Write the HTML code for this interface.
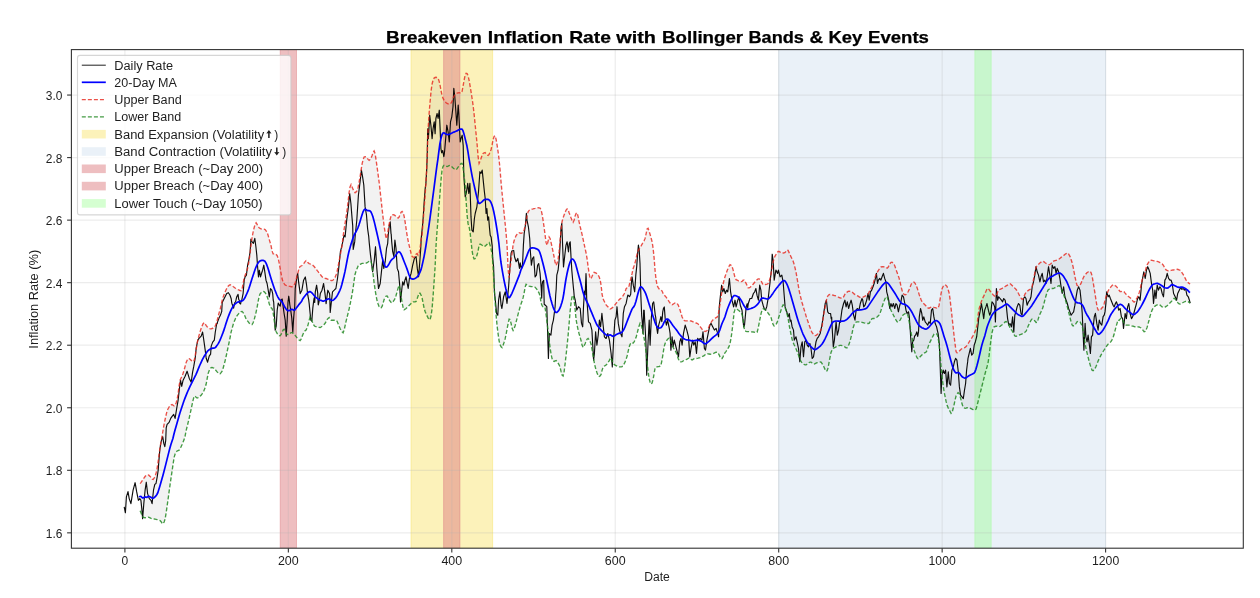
<!DOCTYPE html><html><head><meta charset="utf-8"><style>html,body{margin:0;padding:0;background:#fff;}svg{display:block;filter:blur(0.3px);}text{font-family:"Liberation Sans",sans-serif;}</style></head><body>
<svg width="1260" height="598" viewBox="0 0 1260 598">
<rect width="1260" height="598" fill="#fff"/>
<defs><clipPath id="ax"><rect x="71.4" y="49.6" width="1171.8999999999999" height="498.6"/></clipPath></defs>
<g clip-path="url(#ax)">
<rect x="410.94" y="49.6" width="81.73" height="498.6" fill="#f5d419" fill-opacity="0.3" stroke="#f5d419" stroke-opacity="0.3" stroke-width="0.9"/>
<rect x="778.70" y="49.6" width="326.90" height="498.6" fill="#b2cde4" fill-opacity="0.27" stroke="#b2cde4" stroke-opacity="0.27" stroke-width="0.9"/>
<rect x="280.18" y="49.6" width="16.34" height="498.6" fill="#dd7d81" fill-opacity="0.5" stroke="#dd7d81" stroke-opacity="0.5" stroke-width="0.9"/>
<rect x="443.63" y="49.6" width="16.35" height="498.6" fill="#dd7d81" fill-opacity="0.5" stroke="#dd7d81" stroke-opacity="0.5" stroke-width="0.9"/>
<rect x="974.84" y="49.6" width="16.35" height="498.6" fill="#96ff8c" fill-opacity="0.4" stroke="#96ff8c" stroke-opacity="0.4" stroke-width="0.9"/>
<line x1="71.4" x2="1243.3" y1="532.84" y2="532.84" stroke="#b0b0b0" stroke-opacity="0.24" stroke-width="1.2"/>
<line x1="71.4" x2="1243.3" y1="470.30" y2="470.30" stroke="#b0b0b0" stroke-opacity="0.24" stroke-width="1.2"/>
<line x1="71.4" x2="1243.3" y1="407.76" y2="407.76" stroke="#b0b0b0" stroke-opacity="0.24" stroke-width="1.2"/>
<line x1="71.4" x2="1243.3" y1="345.22" y2="345.22" stroke="#b0b0b0" stroke-opacity="0.24" stroke-width="1.2"/>
<line x1="71.4" x2="1243.3" y1="282.67" y2="282.67" stroke="#b0b0b0" stroke-opacity="0.24" stroke-width="1.2"/>
<line x1="71.4" x2="1243.3" y1="220.13" y2="220.13" stroke="#b0b0b0" stroke-opacity="0.24" stroke-width="1.2"/>
<line x1="71.4" x2="1243.3" y1="157.59" y2="157.59" stroke="#b0b0b0" stroke-opacity="0.24" stroke-width="1.2"/>
<line x1="71.4" x2="1243.3" y1="95.05" y2="95.05" stroke="#b0b0b0" stroke-opacity="0.24" stroke-width="1.2"/>
<line y1="49.6" y2="548.2" x1="124.90" x2="124.90" stroke="#b0b0b0" stroke-opacity="0.24" stroke-width="1.2"/>
<line y1="49.6" y2="548.2" x1="288.35" x2="288.35" stroke="#b0b0b0" stroke-opacity="0.24" stroke-width="1.2"/>
<line y1="49.6" y2="548.2" x1="451.80" x2="451.80" stroke="#b0b0b0" stroke-opacity="0.24" stroke-width="1.2"/>
<line y1="49.6" y2="548.2" x1="615.25" x2="615.25" stroke="#b0b0b0" stroke-opacity="0.24" stroke-width="1.2"/>
<line y1="49.6" y2="548.2" x1="778.70" x2="778.70" stroke="#b0b0b0" stroke-opacity="0.24" stroke-width="1.2"/>
<line y1="49.6" y2="548.2" x1="942.15" x2="942.15" stroke="#b0b0b0" stroke-opacity="0.24" stroke-width="1.2"/>
<line y1="49.6" y2="548.2" x1="1105.60" x2="1105.60" stroke="#b0b0b0" stroke-opacity="0.24" stroke-width="1.2"/>
<path d="M140.1 483.6 L141.1 482.4 L142.1 480.9 L143.1 479.4 L144.1 477.9 L145.1 476.5 L146.1 475.3 L147.1 475.0 L148.1 474.9 L149.1 475.4 L150.1 476.4 L151.1 477.6 L152.1 479.2 L153.1 479.5 L154.1 478.2 L155.1 476.5 L156.1 473.0 L157.1 468.3 L158.1 461.9 L159.1 454.0 L160.1 447.2 L161.1 441.4 L162.1 435.9 L163.1 429.8 L164.1 424.4 L165.1 419.5 L166.1 414.9 L167.1 410.8 L168.1 408.7 L169.1 407.0 L170.1 405.5 L171.1 404.8 L172.1 404.5 L173.1 405.2 L174.1 405.9 L175.1 405.1 L176.1 403.0 L177.1 399.4 L178.1 393.8 L179.1 385.8 L180.1 380.0 L181.1 378.0 L182.1 376.1 L183.1 373.3 L184.1 370.2 L185.1 366.4 L186.1 362.7 L187.1 360.3 L188.1 358.6 L189.1 358.6 L190.1 359.2 L191.1 360.2 L192.1 361.4 L193.1 361.7 L194.1 360.6 L195.1 356.5 L196.1 349.6 L197.1 343.6 L198.1 338.8 L199.1 335.1 L200.1 331.7 L201.1 328.5 L202.1 326.0 L203.1 323.7 L204.1 322.7 L205.1 323.9 L206.1 325.4 L207.1 326.7 L208.1 327.6 L209.1 328.3 L210.1 328.8 L211.1 328.8 L212.1 328.5 L213.1 328.2 L214.1 327.5 L215.1 326.0 L216.1 324.1 L217.1 320.7 L218.1 316.8 L219.1 312.9 L220.1 309.5 L221.1 305.5 L222.1 300.6 L223.1 297.1 L224.1 294.4 L225.1 291.9 L226.1 289.8 L227.1 287.8 L228.1 286.3 L229.1 285.3 L230.1 284.7 L231.1 285.1 L232.1 285.7 L233.1 286.5 L234.1 287.2 L235.1 288.0 L236.1 288.6 L237.1 289.2 L238.1 289.7 L239.1 290.1 L240.1 290.5 L241.1 290.8 L242.1 288.7 L243.1 283.5 L244.1 278.2 L245.1 275.2 L246.1 273.1 L247.1 270.4 L248.1 266.3 L249.1 260.5 L250.1 253.2 L251.1 244.6 L252.1 237.2 L253.1 232.2 L254.1 227.8 L255.1 224.3 L256.1 222.7 L257.1 224.4 L258.1 226.6 L259.1 227.8 L260.1 228.4 L261.1 228.9 L262.1 229.2 L263.1 229.2 L264.1 229.2 L265.1 229.5 L266.1 230.8 L267.1 232.5 L268.1 235.3 L269.1 239.1 L270.1 242.4 L271.1 246.0 L272.1 251.1 L273.1 253.9 L274.1 253.8 L275.1 253.7 L276.1 254.4 L277.1 255.4 L278.1 258.0 L279.1 262.5 L280.1 268.0 L281.1 273.7 L282.1 278.8 L283.1 282.2 L284.1 283.7 L285.1 284.9 L286.1 285.4 L287.1 285.7 L288.1 285.9 L289.1 286.2 L290.1 286.4 L291.1 286.7 L292.1 286.7 L293.1 286.1 L294.1 285.2 L295.1 282.8 L296.1 279.5 L297.1 276.0 L298.1 272.1 L299.1 268.3 L300.1 266.5 L301.1 266.0 L302.1 265.5 L303.1 264.6 L304.1 263.1 L305.1 261.6 L306.1 260.6 L307.1 261.5 L308.1 262.8 L309.1 263.6 L310.1 263.9 L311.1 264.1 L312.1 264.6 L313.1 265.5 L314.1 266.5 L315.1 267.7 L316.1 269.0 L317.1 270.4 L318.1 271.7 L319.1 273.0 L320.1 274.3 L321.1 275.5 L322.1 276.8 L323.1 277.7 L324.1 278.0 L325.1 278.3 L326.1 278.5 L327.1 278.9 L328.1 279.3 L329.1 279.7 L330.1 279.9 L331.1 280.5 L332.1 280.6 L333.1 280.0 L334.1 279.1 L335.1 277.2 L336.1 274.8 L337.1 271.4 L338.1 266.5 L339.1 261.2 L340.1 255.9 L341.1 250.7 L342.1 245.4 L343.1 236.6 L344.1 229.4 L345.1 223.2 L346.1 216.7 L347.1 209.9 L348.1 201.5 L349.1 192.3 L350.1 186.6 L351.1 184.5 L352.1 186.9 L353.1 189.4 L354.1 191.3 L355.1 192.7 L356.1 191.9 L357.1 190.7 L358.1 187.4 L359.1 182.1 L360.1 176.6 L361.1 169.9 L362.1 163.9 L363.1 159.6 L364.1 157.0 L365.1 156.7 L366.1 157.0 L367.1 158.1 L368.1 159.4 L369.1 160.3 L370.1 159.5 L371.1 157.9 L372.1 155.5 L373.1 152.3 L374.1 151.0 L375.1 153.8 L376.1 160.0 L377.1 167.1 L378.1 174.4 L379.1 182.0 L380.1 190.7 L381.1 200.0 L382.1 209.1 L383.1 217.8 L384.1 226.1 L385.1 232.2 L386.1 238.7 L387.1 236.9 L388.1 230.3 L389.1 224.3 L390.1 219.6 L391.1 215.8 L392.1 214.9 L393.1 214.6 L394.1 214.8 L395.1 215.6 L396.1 216.3 L397.1 217.1 L398.1 218.0 L399.1 217.0 L400.1 214.4 L401.1 212.2 L402.1 211.4 L403.1 212.6 L404.1 216.1 L405.1 221.8 L406.1 228.8 L407.1 235.3 L408.1 240.6 L409.1 245.2 L410.1 249.4 L411.1 253.4 L412.1 256.4 L413.1 257.1 L414.1 257.3 L415.1 256.2 L416.1 254.2 L417.1 253.5 L418.1 255.3 L419.1 253.6 L420.1 247.8 L421.1 240.1 L422.1 234.7 L423.1 221.9 L424.1 208.4 L425.1 196.0 L426.1 180.3 L427.1 159.6 L428.1 129.2 L429.1 113.6 L430.1 101.7 L431.1 90.8 L432.1 84.0 L433.1 80.0 L434.1 78.1 L435.1 77.5 L436.1 77.3 L437.1 77.7 L438.1 78.4 L439.1 81.1 L440.1 85.4 L441.1 91.0 L442.1 95.7 L443.1 98.4 L444.1 100.4 L445.1 101.6 L446.1 102.7 L447.1 103.5 L448.1 103.9 L449.1 104.1 L450.1 103.8 L451.1 103.1 L452.1 101.4 L453.1 98.2 L454.1 96.0 L455.1 94.6 L456.1 93.6 L457.1 93.2 L458.1 92.9 L459.1 92.7 L460.1 92.9 L461.1 93.1 L462.1 91.3 L463.1 85.9 L464.1 80.2 L465.1 75.3 L466.1 73.3 L467.1 73.5 L468.1 75.8 L469.1 80.3 L470.1 86.2 L471.1 92.2 L472.1 98.5 L473.1 105.5 L474.1 114.2 L475.1 124.1 L476.1 134.1 L477.1 144.2 L478.1 156.7 L479.1 163.3 L480.1 161.1 L481.1 158.3 L482.1 155.3 L483.1 153.4 L484.1 152.9 L485.1 152.6 L486.1 153.7 L487.1 155.0 L488.1 155.4 L489.1 154.4 L490.1 151.9 L491.1 149.5 L492.1 144.9 L493.1 139.6 L494.1 136.4 L495.1 135.8 L496.1 139.3 L497.1 145.2 L498.1 151.9 L499.1 159.7 L500.1 170.3 L501.1 182.8 L502.1 193.3 L503.1 203.3 L504.1 213.3 L505.1 223.3 L506.1 233.3 L507.1 246.0 L508.1 269.4 L509.1 277.7 L510.1 268.1 L511.1 260.3 L512.1 253.1 L513.1 244.8 L514.1 240.8 L515.1 238.1 L516.1 235.6 L517.1 234.3 L518.1 233.3 L519.1 232.7 L520.1 233.1 L521.1 233.2 L522.1 232.9 L523.1 232.4 L524.1 229.9 L525.1 226.2 L526.1 221.7 L527.1 215.6 L528.1 211.8 L529.1 210.4 L530.1 209.8 L531.1 209.4 L532.1 209.1 L533.1 208.9 L534.1 208.6 L535.1 208.4 L536.1 208.1 L537.1 207.9 L538.1 207.7 L539.1 207.8 L540.1 208.1 L541.1 209.8 L542.1 214.3 L543.1 220.4 L544.1 227.4 L545.1 235.2 L546.1 242.7 L547.1 245.2 L548.1 241.0 L549.1 237.0 L550.1 238.5 L551.1 242.6 L552.1 247.2 L553.1 251.9 L554.1 257.0 L555.1 262.3 L556.1 265.4 L557.1 263.1 L558.1 259.3 L559.1 251.4 L560.1 240.5 L561.1 229.6 L562.1 221.5 L563.1 217.9 L564.1 215.1 L565.1 212.4 L566.1 210.1 L567.1 209.0 L568.1 209.8 L569.1 212.7 L570.1 215.4 L571.1 218.1 L572.1 220.5 L573.1 222.3 L574.1 220.3 L575.1 215.9 L576.1 213.5 L577.1 212.8 L578.1 216.7 L579.1 221.9 L580.1 226.4 L581.1 230.4 L582.1 234.6 L583.1 239.2 L584.1 243.9 L585.1 248.5 L586.1 253.2 L587.1 258.9 L588.1 266.5 L589.1 273.5 L590.1 278.5 L591.1 278.4 L592.1 276.3 L593.1 273.9 L594.1 272.3 L595.1 272.6 L596.1 273.1 L597.1 273.9 L598.1 275.1 L599.1 276.7 L600.1 279.7 L601.1 285.2 L602.1 294.3 L603.1 298.9 L604.1 301.0 L605.1 303.0 L606.1 304.9 L607.1 306.0 L608.1 307.0 L609.1 308.0 L610.1 308.9 L611.1 308.6 L612.1 307.9 L613.1 307.1 L614.1 306.1 L615.1 304.7 L616.1 303.4 L617.1 302.1 L618.1 300.8 L619.1 299.7 L620.1 298.9 L621.1 298.2 L622.1 297.2 L623.1 295.7 L624.1 294.0 L625.1 291.9 L626.1 288.6 L627.1 287.8 L628.1 287.7 L629.1 285.7 L630.1 281.5 L631.1 277.4 L632.1 273.4 L633.1 268.7 L634.1 265.9 L635.1 262.8 L636.1 258.4 L637.1 253.8 L638.1 250.8 L639.1 249.1 L640.1 247.4 L641.1 245.8 L642.1 244.1 L643.1 242.4 L644.1 240.8 L645.1 238.4 L646.1 233.8 L647.1 228.9 L648.1 228.2 L649.1 231.2 L650.1 234.4 L651.1 238.0 L652.1 241.8 L653.1 248.2 L654.1 257.9 L655.1 270.8 L656.1 279.9 L657.1 285.4 L658.1 287.4 L659.1 288.9 L660.1 289.6 L661.1 290.0 L662.1 291.1 L663.1 293.4 L664.1 295.0 L665.1 296.0 L666.1 297.1 L667.1 298.6 L668.1 300.1 L669.1 301.6 L670.1 303.0 L671.1 304.3 L672.1 304.8 L673.1 304.2 L674.1 303.5 L675.1 302.9 L676.1 303.0 L677.1 303.4 L678.1 304.8 L679.1 307.4 L680.1 310.2 L681.1 313.6 L682.1 317.0 L683.1 318.8 L684.1 320.4 L685.1 320.9 L686.1 320.9 L687.1 320.9 L688.1 320.9 L689.1 320.9 L690.1 320.9 L691.1 321.0 L692.1 321.4 L693.1 321.9 L694.1 322.4 L695.1 322.7 L696.1 323.0 L697.1 323.3 L698.1 324.0 L699.1 325.3 L700.1 326.6 L701.1 327.9 L702.1 329.3 L703.1 330.3 L704.1 331.0 L705.1 331.5 L706.1 331.2 L707.1 330.5 L708.1 329.0 L709.1 326.4 L710.1 323.9 L711.1 322.3 L712.1 320.9 L713.1 319.8 L714.1 319.0 L715.1 318.3 L716.1 317.6 L717.1 317.2 L718.1 315.4 L719.1 309.7 L720.1 303.8 L721.1 296.9 L722.1 289.9 L723.1 284.0 L724.1 279.9 L725.1 276.5 L726.1 273.5 L727.1 270.7 L728.1 268.4 L729.1 266.2 L730.1 264.7 L731.1 265.2 L732.1 266.7 L733.1 269.9 L734.1 273.9 L735.1 278.0 L736.1 279.7 L737.1 280.2 L738.1 280.7 L739.1 281.1 L740.1 281.3 L741.1 281.6 L742.1 281.4 L743.1 280.2 L744.1 280.1 L745.1 281.7 L746.1 283.4 L747.1 285.6 L748.1 287.8 L749.1 287.9 L750.1 287.2 L751.1 286.4 L752.1 285.4 L753.1 284.2 L754.1 283.0 L755.1 281.8 L756.1 280.7 L757.1 279.7 L758.1 278.9 L759.1 278.9 L760.1 279.6 L761.1 280.8 L762.1 282.9 L763.1 284.7 L764.1 284.8 L765.1 284.5 L766.1 284.3 L767.1 284.1 L768.1 283.6 L769.1 281.5 L770.1 278.1 L771.1 273.3 L772.1 267.9 L773.1 262.2 L774.1 258.4 L775.1 256.0 L776.1 254.4 L777.1 252.9 L778.1 251.5 L779.1 251.4 L780.1 252.1 L781.1 252.8 L782.1 253.2 L783.1 253.0 L784.1 252.8 L785.1 252.4 L786.1 251.2 L787.1 250.0 L788.1 250.4 L789.1 252.6 L790.1 254.9 L791.1 257.0 L792.1 259.0 L793.1 261.1 L794.1 264.2 L795.1 268.2 L796.1 272.7 L797.1 278.4 L798.1 284.4 L799.1 290.3 L800.1 294.9 L801.1 298.9 L802.1 302.7 L803.1 306.1 L804.1 309.4 L805.1 312.7 L806.1 316.1 L807.1 319.2 L808.1 322.0 L809.1 325.0 L810.1 327.7 L811.1 330.5 L812.1 332.7 L813.1 333.8 L814.1 334.8 L815.1 335.6 L816.1 335.3 L817.1 334.5 L818.1 333.7 L819.1 332.6 L820.1 331.1 L821.1 329.6 L822.1 326.9 L823.1 318.5 L824.1 312.2 L825.1 307.3 L826.1 301.7 L827.1 297.2 L828.1 295.6 L829.1 294.7 L830.1 294.5 L831.1 294.7 L832.1 295.0 L833.1 295.2 L834.1 295.5 L835.1 295.7 L836.1 296.0 L837.1 296.5 L838.1 297.0 L839.1 297.5 L840.1 297.8 L841.1 298.1 L842.1 298.3 L843.1 297.7 L844.1 295.9 L845.1 294.0 L846.1 292.9 L847.1 292.1 L848.1 291.4 L849.1 291.1 L850.1 291.3 L851.1 291.6 L852.1 292.0 L853.1 292.9 L854.1 293.9 L855.1 294.6 L856.1 295.1 L857.1 295.6 L858.1 296.2 L859.1 296.8 L860.1 297.4 L861.1 297.4 L862.1 297.3 L863.1 297.2 L864.1 296.6 L865.1 296.0 L866.1 295.6 L867.1 295.2 L868.1 294.0 L869.1 292.0 L870.1 290.1 L871.1 288.3 L872.1 286.6 L873.1 283.9 L874.1 280.2 L875.1 276.9 L876.1 274.6 L877.1 272.7 L878.1 270.9 L879.1 269.4 L880.1 267.9 L881.1 266.9 L882.1 266.7 L883.1 266.7 L884.1 266.8 L885.1 267.1 L886.1 267.6 L887.1 268.1 L888.1 267.3 L889.1 265.4 L890.1 263.5 L891.1 262.4 L892.1 262.2 L893.1 263.0 L894.1 264.3 L895.1 266.7 L896.1 269.7 L897.1 272.6 L898.1 275.3 L899.1 278.1 L900.1 282.2 L901.1 286.8 L902.1 290.5 L903.1 292.7 L904.1 294.5 L905.1 294.8 L906.1 294.5 L907.1 293.6 L908.1 291.7 L909.1 289.6 L910.1 287.2 L911.1 284.5 L912.1 282.7 L913.1 282.2 L914.1 282.1 L915.1 283.3 L916.1 285.3 L917.1 287.8 L918.1 291.0 L919.1 294.3 L920.1 297.1 L921.1 299.8 L922.1 301.9 L923.1 303.1 L924.1 304.1 L925.1 305.1 L926.1 306.1 L927.1 307.1 L928.1 308.0 L929.1 308.2 L930.1 307.7 L931.1 307.2 L932.1 307.0 L933.1 307.1 L934.1 307.4 L935.1 307.6 L936.1 307.9 L937.1 308.1 L938.1 308.2 L939.1 305.2 L940.1 299.3 L941.1 293.3 L942.1 288.6 L943.1 286.5 L944.1 285.0 L945.1 284.7 L946.1 285.4 L947.1 286.7 L948.1 289.5 L949.1 292.9 L950.1 299.6 L951.1 308.5 L952.1 317.5 L953.1 326.6 L954.1 336.1 L955.1 344.2 L956.1 351.7 L957.1 352.8 L958.1 352.1 L959.1 351.3 L960.1 350.3 L961.1 349.3 L962.1 348.5 L963.1 348.1 L964.1 347.9 L965.1 347.5 L966.1 346.6 L967.1 345.3 L968.1 343.7 L969.1 342.0 L970.1 340.4 L971.1 338.9 L972.1 337.4 L973.1 335.6 L974.1 333.6 L975.1 331.4 L976.1 328.6 L977.1 324.9 L978.1 315.2 L979.1 308.9 L980.1 305.2 L981.1 302.3 L982.1 299.7 L983.1 297.4 L984.1 295.4 L985.1 293.3 L986.1 291.0 L987.1 288.8 L988.1 288.4 L989.1 289.7 L990.1 291.0 L991.1 292.3 L992.1 293.5 L993.1 294.7 L994.1 295.6 L995.1 296.3 L996.1 296.0 L997.1 293.6 L998.1 291.1 L999.1 289.8 L1000.1 289.3 L1001.1 288.8 L1002.1 288.3 L1003.1 287.7 L1004.1 287.1 L1005.1 286.5 L1006.1 285.9 L1007.1 285.3 L1008.1 284.7 L1009.1 284.1 L1010.1 283.7 L1011.1 284.4 L1012.1 285.4 L1013.1 286.4 L1014.1 287.4 L1015.1 288.4 L1016.1 289.5 L1017.1 290.8 L1018.1 292.8 L1019.1 294.8 L1020.1 296.7 L1021.1 298.1 L1022.1 299.4 L1023.1 298.8 L1024.1 296.3 L1025.1 293.9 L1026.1 292.5 L1027.1 291.5 L1028.1 290.6 L1029.1 289.8 L1030.1 289.3 L1031.1 288.8 L1032.1 286.7 L1033.1 281.7 L1034.1 276.4 L1035.1 271.3 L1036.1 267.2 L1037.1 265.7 L1038.1 264.7 L1039.1 263.7 L1040.1 262.8 L1041.1 262.1 L1042.1 261.4 L1043.1 261.3 L1044.1 261.9 L1045.1 262.7 L1046.1 263.4 L1047.1 263.9 L1048.1 264.4 L1049.1 264.8 L1050.1 264.3 L1051.1 263.4 L1052.1 262.4 L1053.1 261.4 L1054.1 260.8 L1055.1 260.6 L1056.1 260.4 L1057.1 260.2 L1058.1 259.7 L1059.1 259.0 L1060.1 258.2 L1061.1 257.4 L1062.1 256.6 L1063.1 255.8 L1064.1 255.1 L1065.1 254.3 L1066.1 253.6 L1067.1 253.0 L1068.1 253.2 L1069.1 254.8 L1070.1 256.6 L1071.1 259.5 L1072.1 262.8 L1073.1 266.9 L1074.1 272.1 L1075.1 277.3 L1076.1 282.0 L1077.1 285.4 L1078.1 285.7 L1079.1 285.4 L1080.1 285.0 L1081.1 283.1 L1082.1 280.6 L1083.1 278.2 L1084.1 276.2 L1085.1 275.0 L1086.1 273.7 L1087.1 272.6 L1088.1 272.0 L1089.1 271.5 L1090.1 271.3 L1091.1 272.7 L1092.1 275.9 L1093.1 281.9 L1094.1 288.0 L1095.1 294.1 L1096.1 300.7 L1097.1 307.1 L1098.1 310.0 L1099.1 310.2 L1100.1 310.5 L1101.1 309.0 L1102.1 307.8 L1103.1 306.8 L1104.1 303.9 L1105.1 300.0 L1106.1 296.4 L1107.1 293.6 L1108.1 291.0 L1109.1 289.2 L1110.1 287.9 L1111.1 286.6 L1112.1 285.6 L1113.1 284.7 L1114.1 284.8 L1115.1 285.6 L1116.1 286.3 L1117.1 287.4 L1118.1 288.8 L1119.1 290.3 L1120.1 291.5 L1121.1 291.6 L1122.1 291.3 L1123.1 291.2 L1124.1 291.8 L1125.1 293.1 L1126.1 294.3 L1127.1 295.4 L1128.1 296.2 L1129.1 297.0 L1130.1 297.8 L1131.1 298.7 L1132.1 299.9 L1133.1 301.2 L1134.1 302.1 L1135.1 301.3 L1136.1 299.5 L1137.1 297.8 L1138.1 295.6 L1139.1 292.9 L1140.1 289.8 L1141.1 284.5 L1142.1 279.9 L1143.1 277.6 L1144.1 275.4 L1145.1 272.0 L1146.1 268.0 L1147.1 264.9 L1148.1 263.2 L1149.1 261.7 L1150.1 260.4 L1151.1 260.2 L1152.1 260.4 L1153.1 260.6 L1154.1 260.8 L1155.1 261.0 L1156.1 261.2 L1157.1 261.4 L1158.1 261.7 L1159.1 262.1 L1160.1 262.7 L1161.1 263.3 L1162.1 263.9 L1163.1 265.0 L1164.1 266.7 L1165.1 268.4 L1166.1 269.9 L1167.1 270.4 L1168.1 270.8 L1169.1 270.8 L1170.1 270.6 L1171.1 270.4 L1172.1 270.2 L1173.1 270.0 L1174.1 269.8 L1175.1 269.6 L1176.1 269.4 L1177.1 269.3 L1178.1 269.5 L1179.1 269.8 L1180.1 270.2 L1181.1 271.3 L1182.1 272.8 L1183.1 274.3 L1184.1 276.1 L1185.1 278.1 L1186.1 280.1 L1187.1 281.8 L1188.1 282.6 L1189.1 283.4 L1190.1 284.0 L1190.1 303.2 L1189.1 302.3 L1188.1 301.7 L1187.1 301.3 L1186.1 301.1 L1185.1 301.5 L1184.1 302.0 L1183.1 302.5 L1182.1 303.0 L1181.1 303.5 L1180.1 304.0 L1179.1 303.9 L1178.1 303.0 L1177.1 301.9 L1176.1 300.5 L1175.1 298.8 L1174.1 298.3 L1173.1 299.3 L1172.1 300.6 L1171.1 301.8 L1170.1 302.8 L1169.1 303.8 L1168.1 304.8 L1167.1 305.7 L1166.1 306.4 L1165.1 307.1 L1164.1 307.5 L1163.1 307.3 L1162.1 306.9 L1161.1 306.1 L1160.1 305.1 L1159.1 304.5 L1158.1 304.7 L1157.1 304.9 L1156.1 305.3 L1155.1 306.1 L1154.1 307.1 L1153.1 308.2 L1152.1 310.1 L1151.1 312.8 L1150.1 315.9 L1149.1 320.0 L1148.1 323.7 L1147.1 327.4 L1146.1 329.8 L1145.1 331.4 L1144.1 331.8 L1143.1 330.4 L1142.1 328.9 L1141.1 328.0 L1140.1 327.5 L1139.1 327.0 L1138.1 326.8 L1137.1 326.7 L1136.1 326.7 L1135.1 326.7 L1134.1 326.5 L1133.1 326.2 L1132.1 326.0 L1131.1 325.7 L1130.1 325.5 L1129.1 325.2 L1128.1 325.1 L1127.1 325.1 L1126.1 325.1 L1125.1 324.6 L1124.1 322.9 L1123.1 320.9 L1122.1 319.3 L1121.1 318.2 L1120.1 319.1 L1119.1 320.4 L1118.1 320.0 L1117.1 323.1 L1116.1 326.5 L1115.1 330.3 L1114.1 334.3 L1113.1 337.5 L1112.1 339.6 L1111.1 341.4 L1110.1 342.4 L1109.1 343.1 L1108.1 344.1 L1107.1 345.5 L1106.1 347.0 L1105.1 348.5 L1104.1 350.0 L1103.1 351.5 L1102.1 353.1 L1101.1 354.9 L1100.1 356.9 L1099.1 358.9 L1098.1 361.1 L1097.1 363.8 L1096.1 366.3 L1095.1 368.3 L1094.1 369.9 L1093.1 370.7 L1092.1 370.2 L1091.1 367.9 L1090.1 364.6 L1089.1 361.1 L1088.1 357.2 L1087.1 353.2 L1086.1 349.0 L1085.1 343.6 L1084.1 337.3 L1083.1 330.5 L1082.1 325.9 L1081.1 323.8 L1080.1 322.0 L1079.1 321.4 L1078.1 321.1 L1077.1 321.8 L1076.1 323.4 L1075.1 324.5 L1074.1 325.7 L1073.1 326.0 L1072.1 325.0 L1071.1 321.8 L1070.1 317.8 L1069.1 313.8 L1068.1 309.8 L1067.1 305.9 L1066.1 302.4 L1065.1 299.1 L1064.1 296.0 L1063.1 293.3 L1062.1 290.7 L1061.1 288.5 L1060.1 286.5 L1059.1 285.5 L1058.1 286.0 L1057.1 286.7 L1056.1 287.2 L1055.1 287.7 L1054.1 288.2 L1053.1 288.5 L1052.1 288.5 L1051.1 288.5 L1050.1 288.6 L1049.1 289.2 L1048.1 290.0 L1047.1 292.2 L1046.1 295.5 L1045.1 299.0 L1044.1 302.9 L1043.1 306.8 L1042.1 309.7 L1041.1 311.7 L1040.1 313.7 L1039.1 316.2 L1038.1 319.4 L1037.1 322.3 L1036.1 322.5 L1035.1 321.2 L1034.1 320.1 L1033.1 319.4 L1032.1 319.0 L1031.1 320.1 L1030.1 322.0 L1029.1 324.1 L1028.1 326.3 L1027.1 328.9 L1026.1 331.2 L1025.1 332.1 L1024.1 332.9 L1023.1 333.5 L1022.1 333.9 L1021.1 334.3 L1020.1 334.7 L1019.1 335.1 L1018.1 335.5 L1017.1 335.9 L1016.1 336.3 L1015.1 336.2 L1014.1 334.6 L1013.1 332.6 L1012.1 330.6 L1011.1 329.6 L1010.1 328.3 L1009.1 325.6 L1008.1 323.4 L1007.1 322.2 L1006.1 321.5 L1005.1 321.9 L1004.1 322.9 L1003.1 323.9 L1002.1 324.8 L1001.1 325.5 L1000.1 326.3 L999.1 326.7 L998.1 326.5 L997.1 326.2 L996.1 326.2 L995.1 326.5 L994.1 326.8 L993.1 328.5 L992.1 332.4 L991.1 338.9 L990.1 347.0 L989.1 355.7 L988.1 362.6 L987.1 366.5 L986.1 370.0 L985.1 373.5 L984.1 377.5 L983.1 381.5 L982.1 385.5 L981.1 389.5 L980.1 393.5 L979.1 397.5 L978.1 401.5 L977.1 405.5 L976.1 409.0 L975.1 410.0 L974.1 409.8 L973.1 409.6 L972.1 409.2 L971.1 408.7 L970.1 408.2 L969.1 407.9 L968.1 407.8 L967.1 407.7 L966.1 408.2 L965.1 408.3 L964.1 407.8 L963.1 406.9 L962.1 404.1 L961.1 400.1 L960.1 396.4 L959.1 393.4 L958.1 392.6 L957.1 393.9 L956.1 395.8 L955.1 399.9 L954.1 404.6 L953.1 408.8 L952.1 412.5 L951.1 413.4 L950.1 411.5 L949.1 409.6 L948.1 407.6 L947.1 405.3 L946.1 401.4 L945.1 396.7 L944.1 391.6 L943.1 385.4 L942.1 377.0 L941.1 366.8 L940.1 355.2 L939.1 344.8 L938.1 337.4 L937.1 334.4 L936.1 333.6 L935.1 333.6 L934.1 334.1 L933.1 335.9 L932.1 337.9 L931.1 339.9 L930.1 341.9 L929.1 344.0 L928.1 346.9 L927.1 350.5 L926.1 352.1 L925.1 352.6 L924.1 353.1 L923.1 353.9 L922.1 354.8 L921.1 355.8 L920.1 356.8 L919.1 357.8 L918.1 358.7 L917.1 357.9 L916.1 355.6 L915.1 353.1 L914.1 350.2 L913.1 345.0 L912.1 337.4 L911.1 333.0 L910.1 327.0 L909.1 321.3 L908.1 316.1 L907.1 313.6 L906.1 313.5 L905.1 313.6 L904.1 314.2 L903.1 314.9 L902.1 316.3 L901.1 318.2 L900.1 320.1 L899.1 321.2 L898.1 322.2 L897.1 321.8 L896.1 320.2 L895.1 318.5 L894.1 316.5 L893.1 314.5 L892.1 312.5 L891.1 310.5 L890.1 308.2 L889.1 304.5 L888.1 300.5 L887.1 296.9 L886.1 296.5 L885.1 298.5 L884.1 301.1 L883.1 303.8 L882.1 306.7 L881.1 310.1 L880.1 313.1 L879.1 314.8 L878.1 316.1 L877.1 317.1 L876.1 317.8 L875.1 318.4 L874.1 318.5 L873.1 318.5 L872.1 318.6 L871.1 319.8 L870.1 321.7 L869.1 323.3 L868.1 323.5 L867.1 323.5 L866.1 323.4 L865.1 323.1 L864.1 322.9 L863.1 322.6 L862.1 322.3 L861.1 322.0 L860.1 321.9 L859.1 321.9 L858.1 321.9 L857.1 321.9 L856.1 322.1 L855.1 323.0 L854.1 324.7 L853.1 328.0 L852.1 333.0 L851.1 336.9 L850.1 340.9 L849.1 344.1 L848.1 346.2 L847.1 347.9 L846.1 347.8 L845.1 347.1 L844.1 346.3 L843.1 345.8 L842.1 345.6 L841.1 345.3 L840.1 345.3 L839.1 345.6 L838.1 346.0 L837.1 346.4 L836.1 346.8 L835.1 347.3 L834.1 347.8 L833.1 348.4 L832.1 349.8 L831.1 352.2 L830.1 356.8 L829.1 362.1 L828.1 367.8 L827.1 370.8 L826.1 371.3 L825.1 369.6 L824.1 367.3 L823.1 365.3 L822.1 363.6 L821.1 362.2 L820.1 362.0 L819.1 362.2 L818.1 362.4 L817.1 362.7 L816.1 363.1 L815.1 363.6 L814.1 364.0 L813.1 363.9 L812.1 362.9 L811.1 362.1 L810.1 362.2 L809.1 362.5 L808.1 363.1 L807.1 364.1 L806.1 364.9 L805.1 364.9 L804.1 364.5 L803.1 363.9 L802.1 362.9 L801.1 361.7 L800.1 359.4 L799.1 356.8 L798.1 354.1 L797.1 351.4 L796.1 348.9 L795.1 346.7 L794.1 344.7 L793.1 342.3 L792.1 339.2 L791.1 334.9 L790.1 329.9 L789.1 324.8 L788.1 318.3 L787.1 314.0 L786.1 310.8 L785.1 307.9 L784.1 305.3 L783.1 304.8 L782.1 307.1 L781.1 309.9 L780.1 313.0 L779.1 316.3 L778.1 319.4 L777.1 322.4 L776.1 324.3 L775.1 325.6 L774.1 326.0 L773.1 324.4 L772.1 321.5 L771.1 317.7 L770.1 315.8 L769.1 314.5 L768.1 313.1 L767.1 311.8 L766.1 310.5 L765.1 309.7 L764.1 309.0 L763.1 308.9 L762.1 310.0 L761.1 313.4 L760.1 318.3 L759.1 323.3 L758.1 328.7 L757.1 332.3 L756.1 332.8 L755.1 332.5 L754.1 332.2 L753.1 332.0 L752.1 331.9 L751.1 331.8 L750.1 331.7 L749.1 331.7 L748.1 331.6 L747.1 331.6 L746.1 331.3 L745.1 330.8 L744.1 328.0 L743.1 319.7 L742.1 314.7 L741.1 312.7 L740.1 311.7 L739.1 310.8 L738.1 310.0 L737.1 309.3 L736.1 308.8 L735.1 309.4 L734.1 312.3 L733.1 322.2 L732.1 330.6 L731.1 338.0 L730.1 343.0 L729.1 346.4 L728.1 348.2 L727.1 349.9 L726.1 351.3 L725.1 352.6 L724.1 354.3 L723.1 356.6 L722.1 358.6 L721.1 358.5 L720.1 357.1 L719.1 354.8 L718.1 353.0 L717.1 352.2 L716.1 352.2 L715.1 352.7 L714.1 353.2 L713.1 353.6 L712.1 353.9 L711.1 354.1 L710.1 354.2 L709.1 354.0 L708.1 353.8 L707.1 353.6 L706.1 354.1 L705.1 354.8 L704.1 355.6 L703.1 356.2 L702.1 356.7 L701.1 357.2 L700.1 357.7 L699.1 357.9 L698.1 358.2 L697.1 358.4 L696.1 358.5 L695.1 358.5 L694.1 358.7 L693.1 359.3 L692.1 359.9 L691.1 359.4 L690.1 358.4 L689.1 358.0 L688.1 358.5 L687.1 359.1 L686.1 359.6 L685.1 359.9 L684.1 360.4 L683.1 361.0 L682.1 361.6 L681.1 361.8 L680.1 361.8 L679.1 360.9 L678.1 358.2 L677.1 355.2 L676.1 352.4 L675.1 350.7 L674.1 349.3 L673.1 347.3 L672.1 344.4 L671.1 341.8 L670.1 339.5 L669.1 338.1 L668.1 338.8 L667.1 339.9 L666.1 341.5 L665.1 343.5 L664.1 346.9 L663.1 353.3 L662.1 359.6 L661.1 364.5 L660.1 366.2 L659.1 366.5 L658.1 366.7 L657.1 366.9 L656.1 366.9 L655.1 367.9 L654.1 373.7 L653.1 379.3 L652.1 382.9 L651.1 384.1 L650.1 382.2 L649.1 378.5 L648.1 371.2 L647.1 362.2 L646.1 352.6 L645.1 344.7 L644.1 338.1 L643.1 332.9 L642.1 328.4 L641.1 324.6 L640.1 323.2 L639.1 326.0 L638.1 329.5 L637.1 333.5 L636.1 337.3 L635.1 339.9 L634.1 341.9 L633.1 343.1 L632.1 342.4 L631.1 343.0 L630.1 344.4 L629.1 347.2 L628.1 351.7 L627.1 356.1 L626.1 359.2 L625.1 361.9 L624.1 364.0 L623.1 365.4 L622.1 366.6 L621.1 366.9 L620.1 366.9 L619.1 366.9 L618.1 366.6 L617.1 366.1 L616.1 365.6 L615.1 365.1 L614.1 364.4 L613.1 363.5 L612.1 360.8 L611.1 357.8 L610.1 358.9 L609.1 360.9 L608.1 362.5 L607.1 363.9 L606.1 365.1 L605.1 365.7 L604.1 366.2 L603.1 367.0 L602.1 370.2 L601.1 374.5 L600.1 375.9 L599.1 376.5 L598.1 375.6 L597.1 373.0 L596.1 370.1 L595.1 366.3 L594.1 361.6 L593.1 355.7 L592.1 349.7 L591.1 344.3 L590.1 341.6 L589.1 339.8 L588.1 338.4 L587.1 339.1 L586.1 341.4 L585.1 343.7 L584.1 345.7 L583.1 347.4 L582.1 345.4 L581.1 340.7 L580.1 337.1 L579.1 333.7 L578.1 329.8 L577.1 325.2 L576.1 319.5 L575.1 309.2 L574.1 299.8 L573.1 295.4 L572.1 296.1 L571.1 302.6 L570.1 311.6 L569.1 323.8 L568.1 335.6 L567.1 345.6 L566.1 355.0 L565.1 363.8 L564.1 371.8 L563.1 376.1 L562.1 375.2 L561.1 371.7 L560.1 367.3 L559.1 364.8 L558.1 363.1 L557.1 361.7 L556.1 360.6 L555.1 360.8 L554.1 361.4 L553.1 361.0 L552.1 358.9 L551.1 354.4 L550.1 348.0 L549.1 339.4 L548.1 330.8 L547.1 322.8 L546.1 314.8 L545.1 308.0 L544.1 306.7 L543.1 306.7 L542.1 305.7 L541.1 302.9 L540.1 296.4 L539.1 293.1 L538.1 291.5 L537.1 289.7 L536.1 288.3 L535.1 287.2 L534.1 286.8 L533.1 286.7 L532.1 286.6 L531.1 286.5 L530.1 286.3 L529.1 286.2 L528.1 285.7 L527.1 284.8 L526.1 284.3 L525.1 287.2 L524.1 293.1 L523.1 297.7 L522.1 301.1 L521.1 303.8 L520.1 306.8 L519.1 310.5 L518.1 314.1 L517.1 318.1 L516.1 322.1 L515.1 325.7 L514.1 328.5 L513.1 330.5 L512.1 328.3 L511.1 323.5 L510.1 319.5 L509.1 319.2 L508.1 323.7 L507.1 328.9 L506.1 334.3 L505.1 338.9 L504.1 342.2 L503.1 345.2 L502.1 347.6 L501.1 346.9 L500.1 344.8 L499.1 340.8 L498.1 333.8 L497.1 325.9 L496.1 315.1 L495.1 301.5 L494.1 284.3 L493.1 267.7 L492.1 254.5 L491.1 249.3 L490.1 245.3 L489.1 242.6 L488.1 243.2 L487.1 244.2 L486.1 245.2 L485.1 246.2 L484.1 246.6 L483.1 246.0 L482.1 245.2 L481.1 244.5 L480.1 244.1 L479.1 245.1 L478.1 250.9 L477.1 254.8 L476.1 257.7 L475.1 258.7 L474.1 258.9 L473.1 256.6 L472.1 250.8 L471.1 241.6 L470.1 232.4 L469.1 226.8 L468.1 223.9 L467.1 215.2 L466.1 200.6 L465.1 184.6 L464.1 175.8 L463.1 167.9 L462.1 163.5 L461.1 163.5 L460.1 164.6 L459.1 165.9 L458.1 167.2 L457.1 168.6 L456.1 169.7 L455.1 169.5 L454.1 168.8 L453.1 168.0 L452.1 167.0 L451.1 166.0 L450.1 165.3 L449.1 165.6 L448.1 166.1 L447.1 166.5 L446.1 166.4 L445.1 165.9 L444.1 165.4 L443.1 166.3 L442.1 169.8 L441.1 179.0 L440.1 191.9 L439.1 205.2 L438.1 218.5 L437.1 230.1 L436.1 244.7 L435.1 266.8 L434.1 281.6 L433.1 295.8 L432.1 308.4 L431.1 315.8 L430.1 319.4 L429.1 319.7 L428.1 317.9 L427.1 315.9 L426.1 313.8 L425.1 311.5 L424.1 308.1 L423.1 303.0 L422.1 298.0 L421.1 295.2 L420.1 293.2 L419.1 293.2 L418.1 295.9 L417.1 298.9 L416.1 301.4 L415.1 301.9 L414.1 301.9 L413.1 301.9 L412.1 302.5 L411.1 303.5 L410.1 304.5 L409.1 305.5 L408.1 306.5 L407.1 307.5 L406.1 308.5 L405.1 309.2 L404.1 309.8 L403.1 307.6 L402.1 302.4 L401.1 296.7 L400.1 289.3 L399.1 285.4 L398.1 288.1 L397.1 291.7 L396.1 295.3 L395.1 298.4 L394.1 300.2 L393.1 301.7 L392.1 302.9 L391.1 302.5 L390.1 301.2 L389.1 299.6 L388.1 297.7 L387.1 296.0 L386.1 296.2 L385.1 297.5 L384.1 299.6 L383.1 303.1 L382.1 306.4 L381.1 307.7 L380.1 307.7 L379.1 306.7 L378.1 304.0 L377.1 300.8 L376.1 295.8 L375.1 289.8 L374.1 282.9 L373.1 274.3 L372.1 266.9 L371.1 261.7 L370.1 260.7 L369.1 261.3 L368.1 262.0 L367.1 262.7 L366.1 263.2 L365.1 263.4 L364.1 263.4 L363.1 263.4 L362.1 263.4 L361.1 263.8 L360.1 264.3 L359.1 264.8 L358.1 266.1 L357.1 268.4 L356.1 270.9 L355.1 274.2 L354.1 280.7 L353.1 288.0 L352.1 294.2 L351.1 299.3 L350.1 304.3 L349.1 309.0 L348.1 313.1 L347.1 317.1 L346.1 321.2 L345.1 325.7 L344.1 330.2 L343.1 332.7 L342.1 331.7 L341.1 330.2 L340.1 328.5 L339.1 326.2 L338.1 323.7 L337.1 321.3 L336.1 320.3 L335.1 320.2 L334.1 320.2 L333.1 320.2 L332.1 320.2 L331.1 320.2 L330.1 319.5 L329.1 317.6 L328.1 318.4 L327.1 319.7 L326.1 321.6 L325.1 323.3 L324.1 324.4 L323.1 325.3 L322.1 326.2 L321.1 327.0 L320.1 327.5 L319.1 327.4 L318.1 327.2 L317.1 327.0 L316.1 326.7 L315.1 326.4 L314.1 325.5 L313.1 323.6 L312.1 321.2 L311.1 317.9 L310.1 316.9 L309.1 320.6 L308.1 324.6 L307.1 327.7 L306.1 330.0 L305.1 330.8 L304.1 331.8 L303.1 334.1 L302.1 336.6 L301.1 339.1 L300.1 340.6 L299.1 340.0 L298.1 339.0 L297.1 337.9 L296.1 336.6 L295.1 335.3 L294.1 334.1 L293.1 333.4 L292.1 332.7 L291.1 332.6 L290.1 333.6 L289.1 334.5 L288.1 334.5 L287.1 334.3 L286.1 333.5 L285.1 331.4 L284.1 329.3 L283.1 329.9 L282.1 332.3 L281.1 334.4 L280.1 335.8 L279.1 335.6 L278.1 334.8 L277.1 333.4 L276.1 331.5 L275.1 326.6 L274.1 319.3 L273.1 312.3 L272.1 308.7 L271.1 307.8 L270.1 306.4 L269.1 303.2 L268.1 299.5 L267.1 296.5 L266.1 294.1 L265.1 292.7 L264.1 291.7 L263.1 291.4 L262.1 292.1 L261.1 292.8 L260.1 293.9 L259.1 296.5 L258.1 301.7 L257.1 307.3 L256.1 312.1 L255.1 316.2 L254.1 320.0 L253.1 322.7 L252.1 324.6 L251.1 324.4 L250.1 323.8 L249.1 323.0 L248.1 321.7 L247.1 320.4 L246.1 318.9 L245.1 316.6 L244.1 314.2 L243.1 312.6 L242.1 311.4 L241.1 311.7 L240.1 312.4 L239.1 313.2 L238.1 314.4 L237.1 315.7 L236.1 317.2 L235.1 319.4 L234.1 321.9 L233.1 324.8 L232.1 328.4 L231.1 332.2 L230.1 337.5 L229.1 342.5 L228.1 347.1 L227.1 351.8 L226.1 356.5 L225.1 360.8 L224.1 364.6 L223.1 368.2 L222.1 371.2 L221.1 372.7 L220.1 373.8 L219.1 373.6 L218.1 372.8 L217.1 371.9 L216.1 370.6 L215.1 369.3 L214.1 368.2 L213.1 367.8 L212.1 367.5 L211.1 367.7 L210.1 369.1 L209.1 370.8 L208.1 373.6 L207.1 379.0 L206.1 384.3 L205.1 387.6 L204.1 390.3 L203.1 392.2 L202.1 393.8 L201.1 395.3 L200.1 396.1 L199.1 396.9 L198.1 397.6 L197.1 398.0 L196.1 397.2 L195.1 396.2 L194.1 396.4 L193.1 400.2 L192.1 404.7 L191.1 409.4 L190.1 414.0 L189.1 418.6 L188.1 422.7 L187.1 426.7 L186.1 430.7 L185.1 436.2 L184.1 439.6 L183.1 442.1 L182.1 444.6 L181.1 446.7 L180.1 448.7 L179.1 450.1 L178.1 450.5 L177.1 451.0 L176.1 452.3 L175.1 454.0 L174.1 457.5 L173.1 464.1 L172.1 470.9 L171.1 477.6 L170.1 484.4 L169.1 491.7 L168.1 499.0 L167.1 506.1 L166.1 513.1 L165.1 519.1 L164.1 522.0 L163.1 523.8 L162.1 523.2 L161.1 521.7 L160.1 520.5 L159.1 520.1 L158.1 519.8 L157.1 519.6 L156.1 519.4 L155.1 519.2 L154.1 519.0 L153.1 518.9 L152.1 518.7 L151.1 518.3 L150.1 517.8 L149.1 517.3 L148.1 517.1 L147.1 517.3 L146.1 517.6 L145.1 517.7 L144.1 517.5 L143.1 517.1 L142.1 515.6 L141.1 513.0 L140.1 510.7 Z" fill="#808080" fill-opacity="0.1" stroke="none"/>
<path d="M124.2 506.9 L125.4 512.8 L126.4 496.9 L128.0 491.6 L129.2 498.6 L130.9 503.6 L133.1 490.2 L135.1 482.7 L136.7 491.9 L138.4 500.3 L139.8 498.6 L140.9 500.3 L141.8 508.6 L142.6 518.7 L143.8 503.6 L145.1 490.2 L146.3 482.2 L147.6 493.6 L149.3 498.6 L151.0 500.3 L152.1 503.6 L153.5 490.2 L154.8 484.4 L156.0 483.5 L157.2 476.8 L158.2 470.1 L158.8 461.8 L159.8 450.1 L160.5 445.1 L161.5 440.0 L162.7 436.7 L163.8 443.4 L164.8 446.7 L165.7 440.6 L166.2 427.9 L167.1 424.4 L169.1 422.4 L170.7 418.4 L172.1 416.4 L173.7 414.4 L175.1 418.4 L176.7 408.4 L178.1 400.3 L179.7 386.3 L180.5 380.2 L181.7 386.3 L183.1 380.2 L185.1 376.2 L187.1 371.2 L189.2 378.2 L191.2 382.2 L192.6 372.2 L193.8 366.2 L195.2 358.2 L196.2 348.1 L197.8 340.1 L199.2 338.1 L201.2 336.1 L202.6 332.0 L203.8 340.1 L205.2 350.1 L206.2 358.2 L207.6 362.2 L209.2 356.1 L210.6 354.1 L211.2 346.1 L212.7 342.1 L214.3 340.1 L215.3 332.0 L216.3 326.0 L216.7 323.4 L217.2 323.7 L217.5 322.1 L219.0 318.1 L220.5 315.1 L221.5 312.1 L221.7 311.7 L222.2 302.6 L224.2 298.6 L226.7 293.6 L228.4 292.7 L230.0 295.2 L231.2 298.7 L231.7 302.6 L232.1 304.0 L233.6 308.1 L234.6 303.0 L235.7 301.5 L236.2 299.0 L236.7 296.9 L238.1 294.4 L238.7 299.4 L239.2 300.0 L239.6 303.0 L240.6 304.0 L241.2 301.0 L241.7 300.5 L241.7 300.3 L243.1 293.6 L244.2 280.2 L245.1 276.9 L246.4 275.2 L247.6 265.2 L248.8 260.1 L250.1 251.8 L250.9 239.2 L252.1 241.8 L253.4 243.4 L254.8 238.4 L255.9 246.8 L256.8 255.1 L257.6 266.8 L258.5 276.9 L259.3 270.2 L260.5 276.9 L261.5 273.5 L262.6 270.2 L263.8 265.2 L264.8 271.8 L266.0 280.2 L267.1 283.5 L268.5 291.9 L269.3 296.9 L270.5 288.6 L271.8 290.2 L272.7 293.6 L273.2 300.0 L273.7 302.2 L274.7 320.1 L275.2 330.1 L276.2 326.1 L277.2 310.1 L278.2 303.0 L279.2 305.0 L280.2 306.1 L281.2 300.0 L282.2 299.0 L283.2 307.1 L284.2 314.1 L285.2 320.1 L286.2 336.2 L287.2 320.1 L288.0 302.0 L288.2 300.7 L288.7 296.2 L289.2 299.4 L289.7 303.7 L289.7 304.0 L290.7 310.1 L291.8 318.1 L292.8 332.1 L293.5 320.1 L294.3 310.1 L294.7 307.0 L295.2 288.9 L295.2 288.6 L296.9 276.9 L297.7 273.5 L298.6 281.9 L300.2 293.6 L301.9 290.2 L303.6 280.2 L305.3 276.9 L306.6 285.2 L307.8 295.2 L308.7 299.9 L309.2 303.9 L309.8 310.1 L310.8 320.1 L311.8 321.1 L312.8 308.1 L313.8 300.0 L314.2 297.8 L314.7 302.4 L315.3 291.9 L316.6 285.2 L317.7 292.9 L318.2 304.4 L318.3 305.0 L319.2 300.8 L319.7 298.1 L320.3 293.6 L322.0 290.2 L323.6 283.5 L325.0 293.6 L326.1 303.6 L327.8 290.2 L329.5 293.6 L329.7 294.8 L330.2 312.4 L330.8 306.9 L332.5 291.8 L334.2 290.2 L335.9 288.5 L337.5 278.5 L338.7 268.4 L340.4 251.7 L341.7 246.7 L343.1 240.0 L343.2 239.6 L343.7 236.7 L344.2 235.3 L345.1 236.9 L346.7 220.2 L348.4 206.9 L349.7 193.5 L350.9 203.5 L352.1 218.6 L352.7 225.6 L353.2 249.4 L354.7 241.9 L355.2 235.8 L356.8 220.2 L358.4 195.2 L360.1 181.8 L361.4 170.1 L362.6 176.8 L363.8 185.1 L365.1 206.9 L366.5 215.2 L367.6 228.6 L368.7 236.3 L369.2 242.4 L370.5 255.1 L372.6 271.8 L374.3 260.1 L375.5 246.7 L376.8 268.4 L378.5 288.5 L380.2 283.5 L381.8 268.4 L382.7 260.1 L383.8 268.4 L385.2 261.7 L386.5 248.4 L387.7 243.4 L387.7 243.1 L388.2 235.3 L389.3 225.2 L390.2 221.9 L391.0 233.6 L391.2 234.1 L391.7 241.8 L392.7 251.7 L393.9 256.7 L394.9 240.0 L396.0 248.4 L397.2 268.4 L398.5 271.8 L399.7 285.1 L400.5 301.9 L401.9 288.5 L402.7 281.8 L403.9 285.1 L404.9 280.1 L406.1 276.8 L406.9 281.8 L408.2 288.5 L409.4 278.5 L411.1 273.4 L412.7 265.1 L414.4 258.4 L416.1 256.7 L417.3 268.4 L418.6 276.8 L419.8 261.7 L420.7 248.9 L421.2 238.6 L421.7 233.6 L422.7 223.7 L423.2 217.2 L424.4 198.5 L424.7 195.0 L425.2 188.4 L425.9 183.4 L426.7 169.6 L427.2 156.1 L427.2 156.1 L427.7 128.8 L428.4 138.6 L429.7 115.2 L430.9 125.2 L432.1 138.6 L433.1 128.5 L434.2 121.9 L435.1 133.6 L435.9 118.5 L437.1 113.5 L438.1 118.5 L439.3 110.2 L440.1 128.5 L440.9 148.6 L441.7 152.8 L442.7 150.5 L443.8 156.7 L444.2 154.6 L444.7 150.2 L445.4 141.9 L446.8 125.2 L448.1 131.9 L449.3 141.9 L450.5 121.9 L451.8 116.8 L453.0 106.8 L453.8 88.4 L454.8 96.8 L456.0 113.5 L456.8 125.2 L458.2 105.1 L458.8 113.5 L460.2 141.9 L461.0 138.6 L462.2 135.2 L463.2 145.6 L463.7 171.1 L463.8 175.1 L465.2 196.8 L466.5 191.8 L467.7 183.4 L468.8 193.5 L469.9 183.4 L471.0 216.9 L471.9 230.2 L473.2 231.9 L474.4 218.5 L475.2 213.5 L476.9 206.8 L478.5 191.8 L479.9 171.7 L481.0 173.4 L482.2 170.1 L483.2 180.1 L484.4 191.8 L485.2 198.5 L486.1 213.5 L486.9 208.5 L487.7 220.2 L488.6 216.9 L489.4 226.9 L490.2 235.2 L491.1 236.9 L491.9 243.6 L492.2 245.8 L492.7 257.9 L493.6 266.7 L494.4 291.8 L495.3 300.1 L496.6 313.5 L497.8 315.2 L498.6 300.1 L499.9 291.8 L501.1 305.2 L501.9 308.5 L503.6 296.8 L505.3 291.8 L507.0 303.5 L508.6 286.8 L510.0 266.7 L511.1 253.3 L511.7 251.1 L513.7 250.5 L514.5 256.7 L516.1 261.7 L517.8 258.4 L519.5 268.4 L519.7 267.5 L520.2 262.8 L521.4 268.5 L522.5 265.2 L523.4 245.1 L524.2 233.4 L525.4 225.1 L526.4 213.4 L527.0 220.1 L528.4 226.8 L529.7 238.5 L530.4 251.8 L531.4 265.2 L532.5 258.5 L533.7 256.8 L535.1 276.9 L536.4 275.2 L537.6 265.2 L538.7 263.5 L540.1 273.6 L541.2 287.7 L541.7 298.1 L541.7 298.1 L542.2 284.6 L542.6 281.9 L543.7 280.3 L544.2 304.2 L545.1 305.0 L546.8 306.7 L547.6 331.8 L548.4 358.5 L549.3 333.5 L550.9 335.1 L552.1 325.1 L553.4 320.1 L555.1 306.7 L555.7 295.0 L556.2 289.0 L556.8 275.2 L558.1 270.2 L559.3 258.5 L560.1 245.1 L561.0 228.4 L561.8 223.4 L562.6 245.1 L563.5 266.9 L564.8 255.2 L566.0 245.1 L567.1 241.8 L568.5 251.8 L569.3 243.5 L570.2 241.8 L571.0 256.8 L571.8 270.2 L572.7 280.2 L573.5 288.6 L573.7 290.1 L574.2 296.1 L575.2 300.0 L576.8 310.1 L578.5 306.7 L580.2 308.4 L581.5 323.4 L582.7 326.8 L583.5 306.7 L584.4 291.7 L584.7 291.0 L585.2 294.9 L586.0 273.6 L586.2 277.8 L586.7 299.0 L586.9 300.0 L588.5 321.8 L590.2 323.4 L591.9 330.1 L593.6 360.2 L594.4 353.5 L595.6 331.8 L596.9 345.2 L598.2 335.1 L599.4 320.1 L600.6 326.8 L601.9 313.4 L603.3 326.8 L604.4 336.8 L606.1 338.5 L607.8 333.5 L609.4 340.1 L611.1 353.5 L612.3 366.9 L613.6 340.1 L614.9 320.1 L616.1 316.7 L617.0 306.7 L618.3 323.4 L619.5 330.1 L620.6 333.5 L622.0 336.8 L623.3 313.4 L624.5 306.7 L626.1 303.4 L627.8 295.0 L629.5 296.7 L630.7 294.3 L631.2 285.5 L632.0 276.9 L632.2 277.5 L632.7 281.1 L633.3 285.2 L634.7 291.8 L635.8 275.1 L636.7 266.8 L637.5 255.1 L638.4 245.0 L639.2 250.1 L640.0 263.4 L640.9 296.9 L641.7 316.0 L642.2 320.9 L643.0 333.4 L643.7 310.2 L644.2 310.4 L644.2 310.4 L644.7 321.2 L645.0 325.1 L645.9 341.8 L646.7 375.2 L648.1 341.8 L649.2 320.1 L650.1 345.1 L651.4 316.7 L651.7 314.1 L652.2 309.3 L652.6 303.5 L653.7 301.9 L655.1 313.6 L655.2 314.8 L655.7 317.1 L656.4 325.1 L657.6 333.4 L658.7 325.1 L660.1 320.1 L660.9 316.7 L661.8 321.7 L662.2 318.4 L662.7 312.2 L663.4 308.6 L664.3 306.9 L664.7 312.1 L665.2 318.9 L666.4 325.1 L667.6 320.1 L669.3 328.4 L670.1 333.4 L670.9 350.1 L672.1 336.8 L673.1 346.8 L674.3 340.1 L675.5 345.1 L676.8 350.1 L678.5 356.8 L679.8 341.8 L681.0 338.4 L682.1 345.1 L683.5 333.4 L685.2 325.1 L686.8 330.1 L688.5 336.8 L689.8 356.8 L691.0 348.5 L692.7 340.1 L693.8 345.1 L695.2 341.8 L696.5 353.5 L697.7 338.4 L698.9 340.1 L700.2 338.4 L701.9 340.1 L703.0 331.8 L704.4 348.5 L705.5 350.1 L706.9 340.1 L708.2 333.4 L709.9 325.1 L711.1 323.4 L712.7 326.7 L714.4 330.1 L716.1 328.4 L717.7 333.4 L718.6 336.8 L718.7 334.0 L719.2 307.4 L720.3 296.9 L721.6 285.2 L722.8 291.8 L723.9 288.5 L725.3 293.5 L726.6 290.2 L727.8 291.8 L729.4 278.5 L730.6 291.8 L732.0 300.2 L733.6 306.9 L735.0 300.2 L736.1 306.9 L737.8 300.2 L739.0 296.9 L740.3 305.2 L742.0 310.2 L743.7 326.9 L744.5 325.3 L746.2 306.9 L747.2 303.8 L747.7 308.0 L748.3 303.5 L750.0 298.5 L751.7 298.5 L753.4 293.5 L754.7 291.8 L755.9 288.5 L757.0 295.2 L758.4 300.2 L759.7 285.1 L760.9 290.1 L761.7 300.2 L763.1 305.2 L764.2 308.5 L765.4 310.2 L766.7 306.9 L768.4 296.8 L770.1 281.8 L771.4 270.1 L772.2 254.2 L773.1 260.1 L774.2 280.1 L775.9 270.1 L777.6 273.4 L778.4 270.1 L780.1 276.8 L781.8 275.1 L783.1 281.8 L784.3 296.8 L785.1 306.9 L786.8 311.9 L788.1 316.9 L789.3 313.5 L789.7 317.0 L790.2 321.1 L791.0 320.1 L792.1 326.7 L793.5 330.1 L794.3 340.1 L796.0 336.8 L797.1 341.8 L798.5 348.5 L799.8 361.8 L801.0 346.8 L802.2 341.8 L803.5 356.8 L804.8 341.8 L806.0 340.1 L807.2 345.1 L808.5 346.8 L809.9 343.5 L811.0 348.5 L812.2 358.5 L813.5 356.8 L814.9 348.5 L816.0 341.8 L817.2 338.4 L818.5 336.8 L820.2 333.4 L821.9 325.1 L822.7 320.0 L823.2 316.8 L823.9 311.9 L825.2 303.5 L826.4 300.2 L827.7 311.9 L828.9 313.5 L830.6 313.5 L831.2 318.7 L831.7 317.4 L831.9 323.4 L833.3 346.8 L834.4 340.1 L836.1 321.7 L837.3 335.1 L838.6 330.1 L839.7 321.3 L840.2 322.5 L840.6 320.2 L841.9 310.2 L843.6 303.5 L844.9 300.2 L846.1 306.9 L847.3 301.8 L848.6 308.5 L850.0 303.5 L851.1 300.2 L852.3 305.2 L853.6 315.2 L855.0 320.2 L856.1 310.2 L857.3 308.5 L859.0 310.2 L860.3 303.5 L862.0 298.5 L862.2 298.9 L862.7 299.9 L863.7 306.8 L865.0 305.2 L866.7 300.1 L868.0 293.5 L869.2 300.1 L870.4 291.8 L871.7 290.1 L873.0 286.8 L874.2 283.4 L875.4 278.4 L876.4 273.4 L877.5 283.4 L878.4 280.1 L879.7 278.4 L880.9 280.1 L882.1 276.7 L883.4 273.4 L884.7 278.4 L885.9 281.8 L886.7 291.8 L887.6 295.1 L888.7 300.1 L889.8 308.5 L890.9 303.5 L892.1 306.8 L893.4 303.5 L894.8 308.5 L895.9 303.5 L897.1 305.2 L898.4 311.8 L899.8 305.2 L900.9 301.8 L902.1 295.1 L903.5 296.8 L904.8 303.5 L906.0 310.2 L907.1 313.5 L908.5 311.8 L909.3 316.9 L910.1 328.6 L910.2 329.4 L910.7 337.8 L911.0 341.7 L911.8 351.8 L912.6 341.7 L913.8 340.1 L914.7 335.7 L915.2 335.7 L915.5 335.2 L916.8 331.9 L917.2 334.1 L917.7 336.5 L917.7 336.5 L918.2 333.7 L918.5 331.9 L919.3 316.9 L920.5 308.5 L921.8 313.5 L922.7 320.2 L923.8 316.9 L925.2 321.9 L926.5 323.5 L927.7 325.2 L928.9 321.9 L930.2 323.5 L931.5 310.2 L932.7 308.5 L933.9 316.9 L935.2 323.5 L936.6 326.9 L937.7 331.9 L938.2 334.0 L938.7 338.2 L939.4 345.1 L940.2 366.8 L941.1 393.5 L941.9 375.2 L943.2 370.1 L944.4 373.5 L945.6 370.1 L946.9 386.9 L948.3 371.8 L949.4 383.5 L950.6 385.2 L951.9 370.1 L953.3 366.8 L954.4 361.8 L955.6 358.4 L956.9 360.1 L958.3 371.8 L959.4 386.9 L960.6 395.2 L962.0 396.9 L963.3 398.6 L964.5 390.2 L965.6 383.5 L966.6 370.1 L967.2 365.3 L967.7 361.4 L968.0 358.4 L969.2 353.4 L970.4 348.4 L971.7 355.1 L973.1 353.4 L974.2 345.1 L975.4 341.7 L976.7 336.7 L977.6 328.4 L978.2 323.3 L978.7 318.4 L980.0 311.9 L981.4 303.5 L982.5 310.2 L983.7 318.6 L984.7 310.2 L985.9 306.9 L987.0 303.5 L988.4 310.2 L989.7 315.2 L990.9 311.9 L992.0 301.8 L993.4 303.5 L994.7 306.9 L995.4 321.9 L996.4 288.5 L997.6 300.2 L998.7 296.8 L1000.1 298.5 L1001.4 300.2 L1002.6 301.8 L1003.7 298.5 L1005.1 300.2 L1006.4 306.9 L1007.6 318.6 L1008.8 325.2 L1010.1 323.6 L1011.4 326.9 L1012.6 316.9 L1013.8 331.9 L1014.8 315.2 L1015.9 311.9 L1017.1 306.9 L1018.5 303.5 L1019.8 305.2 L1021.0 313.5 L1022.1 315.2 L1023.5 298.5 L1024.8 296.8 L1026.0 298.5 L1027.1 305.2 L1028.5 301.8 L1029.8 300.2 L1031.0 296.8 L1032.2 286.8 L1033.5 281.8 L1034.8 275.1 L1036.0 266.7 L1037.2 271.8 L1038.5 275.1 L1039.9 281.8 L1041.0 276.8 L1042.2 273.4 L1043.5 281.8 L1044.9 280.1 L1046.0 283.5 L1047.2 276.8 L1048.5 266.7 L1049.9 275.1 L1051.0 283.5 L1052.2 265.1 L1053.6 268.4 L1054.9 266.7 L1056.1 273.4 L1057.2 268.4 L1058.6 271.8 L1059.9 278.4 L1061.1 286.8 L1062.2 293.5 L1063.6 286.8 L1064.9 296.8 L1066.1 300.2 L1067.3 303.5 L1068.6 308.5 L1069.9 311.9 L1071.1 315.2 L1072.3 313.5 L1073.6 311.9 L1074.9 305.2 L1076.1 296.8 L1077.3 290.1 L1078.6 286.8 L1080.0 290.1 L1081.1 300.2 L1081.7 306.6 L1082.2 313.2 L1083.1 333.4 L1083.9 350.1 L1085.1 323.4 L1085.9 336.8 L1087.1 341.8 L1088.1 335.1 L1089.2 343.5 L1090.4 353.5 L1091.4 336.8 L1092.6 335.1 L1093.4 325.1 L1094.3 316.7 L1095.4 313.4 L1096.8 323.4 L1098.1 330.1 L1099.3 320.1 L1100.4 323.4 L1101.8 325.1 L1103.1 316.7 L1104.2 315.2 L1104.7 313.2 L1105.0 311.9 L1105.9 303.5 L1106.7 291.8 L1108.1 296.8 L1109.2 295.2 L1110.4 298.5 L1111.7 301.8 L1113.1 305.2 L1114.2 306.9 L1115.4 303.5 L1116.4 301.8 L1117.6 305.2 L1118.7 310.2 L1120.1 308.5 L1121.4 316.9 L1122.6 318.6 L1122.7 319.5 L1123.2 325.3 L1123.5 328.4 L1124.2 322.4 L1124.7 318.0 L1125.1 313.5 L1126.4 318.6 L1127.6 306.9 L1128.8 303.5 L1130.1 313.5 L1131.5 318.6 L1132.6 316.9 L1133.8 313.5 L1135.1 308.5 L1136.5 303.5 L1137.6 298.5 L1138.8 296.8 L1140.1 300.2 L1141.5 285.1 L1142.6 278.4 L1143.8 271.8 L1145.2 278.4 L1146.5 270.1 L1147.7 266.7 L1148.8 269.2 L1150.2 273.4 L1151.5 283.5 L1152.7 290.1 L1153.5 303.5 L1154.9 290.1 L1156.0 298.5 L1157.2 285.1 L1158.5 290.1 L1159.9 286.8 L1161.0 288.5 L1162.2 293.5 L1163.5 296.8 L1164.9 280.1 L1166.0 278.4 L1167.2 273.4 L1168.6 278.4 L1169.9 280.1 L1171.1 280.1 L1172.2 283.5 L1173.6 293.5 L1175.2 296.8 L1176.6 300.2 L1177.7 293.5 L1179.4 290.1 L1180.6 287.6 L1181.9 289.3 L1183.3 288.5 L1184.4 290.1 L1185.6 288.5 L1186.9 295.2 L1188.3 296.8 L1189.4 300.2 L1190.2 303.2" fill="none" stroke="#000" stroke-opacity="0.95" stroke-width="1.15" stroke-linejoin="round"/>
<path d="M138.9 496.8 L139.9 496.5 L140.9 496.4 L141.9 497.5 L142.9 498.1 L143.9 497.4 L144.9 496.9 L145.9 497.2 L146.9 497.4 L147.9 496.6 L148.9 496.3 L149.9 496.7 L150.9 497.3 L151.9 498.0 L152.9 498.3 L153.9 497.7 L154.9 497.0 L155.9 495.9 L156.9 494.5 L157.9 492.5 L158.9 489.3 L159.9 486.0 L160.9 482.6 L161.9 479.1 L162.9 475.5 L163.9 471.8 L164.9 467.9 L165.9 463.9 L166.9 459.9 L167.9 455.9 L168.9 451.9 L169.9 448.0 L170.9 444.6 L171.9 441.6 L172.9 438.5 L173.9 434.3 L174.9 430.5 L175.9 427.0 L176.9 423.6 L177.9 420.1 L178.9 416.6 L179.9 413.1 L180.9 410.0 L181.9 407.0 L182.9 404.0 L183.9 401.0 L184.9 398.4 L185.9 395.9 L186.9 393.4 L187.9 391.0 L188.9 388.8 L189.9 386.7 L190.9 384.7 L191.9 382.7 L192.9 380.7 L193.9 378.7 L194.9 376.7 L195.9 374.6 L196.9 372.3 L197.9 369.9 L198.9 367.4 L199.9 365.0 L200.9 362.8 L201.9 360.7 L202.9 358.7 L203.9 356.8 L204.9 355.1 L205.9 353.6 L206.9 352.1 L207.9 350.8 L208.9 349.9 L209.9 349.3 L210.9 348.8 L211.9 348.4 L212.9 348.2 L213.9 348.1 L214.9 347.8 L215.9 347.0 L216.9 345.6 L217.9 344.1 L218.9 342.5 L219.9 340.4 L220.9 338.0 L221.9 335.5 L222.9 332.9 L223.9 330.1 L224.9 327.1 L225.9 323.8 L226.9 320.7 L227.9 317.8 L228.9 315.1 L229.9 312.6 L230.9 310.4 L231.9 308.4 L232.9 306.6 L233.9 305.2 L234.9 304.2 L235.9 303.3 L236.9 302.6 L237.9 302.1 L238.9 301.7 L239.9 301.4 L240.9 301.2 L241.9 300.9 L242.9 300.4 L243.9 299.4 L244.9 297.8 L245.9 295.7 L246.9 293.5 L247.9 291.2 L248.9 288.5 L249.9 285.4 L250.9 282.3 L251.9 279.1 L252.9 275.9 L253.9 272.9 L254.9 270.0 L255.9 267.3 L256.9 265.2 L257.9 263.4 L258.9 261.9 L259.9 261.0 L260.9 260.6 L261.9 260.4 L262.9 260.4 L263.9 260.6 L264.9 261.3 L265.9 262.9 L266.9 265.2 L267.9 268.0 L268.9 271.3 L269.9 274.8 L270.9 278.1 L271.9 281.3 L272.9 284.3 L273.9 287.2 L274.9 290.0 L275.9 292.5 L276.9 295.0 L277.9 297.1 L278.9 298.8 L279.9 299.8 L280.9 300.6 L281.9 301.8 L282.9 303.5 L283.9 305.4 L284.9 307.3 L285.9 308.8 L286.9 310.0 L287.9 310.7 L288.9 310.7 L289.9 310.2 L290.9 309.5 L291.9 309.2 L292.9 309.7 L293.9 310.3 L294.9 309.9 L295.9 308.6 L296.9 307.2 L297.9 305.9 L298.9 304.6 L299.9 303.4 L300.9 302.3 L301.9 300.7 L302.9 298.7 L303.9 297.2 L304.9 296.0 L305.9 294.8 L306.9 293.6 L307.9 292.6 L308.9 291.8 L309.9 291.6 L310.9 292.1 L311.9 292.9 L312.9 294.0 L313.9 295.2 L314.9 296.4 L315.9 297.3 L316.9 298.1 L317.9 298.9 L318.9 299.5 L319.9 300.0 L320.9 300.4 L321.9 300.8 L322.9 301.2 L323.9 301.1 L324.9 300.6 L325.9 300.0 L326.9 299.5 L327.9 299.0 L328.9 298.8 L329.9 299.2 L330.9 300.0 L331.9 300.5 L332.9 300.4 L333.9 299.6 L334.9 298.6 L335.9 297.6 L336.9 296.2 L337.9 294.4 L338.9 292.4 L339.9 290.3 L340.9 287.7 L341.9 284.3 L342.9 280.3 L343.9 276.3 L344.9 271.9 L345.9 266.9 L346.9 261.5 L347.9 256.3 L348.9 251.8 L349.9 248.1 L350.9 244.6 L351.9 241.4 L352.9 238.3 L353.9 235.7 L354.9 233.7 L355.9 231.9 L356.9 229.9 L357.9 227.8 L358.9 225.1 L359.9 221.9 L360.9 218.6 L361.9 215.3 L362.9 212.2 L363.9 210.1 L364.9 209.2 L365.9 209.5 L366.9 210.2 L367.9 210.7 L368.9 210.6 L369.9 210.8 L370.9 211.9 L371.9 214.0 L372.9 216.8 L373.9 220.4 L374.9 224.4 L375.9 228.7 L376.9 233.0 L377.9 237.4 L378.9 242.0 L379.9 247.0 L380.9 251.9 L381.9 256.4 L382.9 260.3 L383.9 263.2 L384.9 265.6 L385.9 267.2 L386.9 267.0 L387.9 265.8 L388.9 264.2 L389.9 262.3 L390.9 260.6 L391.9 259.5 L392.9 258.7 L393.9 257.8 L394.9 256.5 L395.9 255.1 L396.9 253.6 L397.9 252.2 L398.9 251.7 L399.9 252.3 L400.9 253.7 L401.9 255.8 L402.9 258.4 L403.9 261.0 L404.9 263.5 L405.9 266.0 L406.9 268.6 L407.9 271.5 L408.9 274.5 L409.9 277.0 L410.9 278.4 L411.9 278.9 L412.9 279.1 L413.9 278.9 L414.9 278.5 L415.9 277.9 L416.9 277.2 L417.9 276.1 L418.9 274.4 L419.9 272.4 L420.9 269.9 L421.9 266.3 L422.9 261.9 L423.9 257.3 L424.9 252.0 L425.9 246.0 L426.9 239.4 L427.9 232.9 L428.9 226.1 L429.9 218.8 L430.9 211.3 L431.9 203.8 L432.9 196.3 L433.9 188.8 L434.9 181.2 L435.9 173.4 L436.9 165.8 L437.9 159.1 L438.9 151.2 L439.9 143.7 L440.9 138.7 L441.9 135.0 L442.9 133.0 L443.9 132.8 L444.9 133.4 L445.9 134.0 L446.9 134.4 L447.9 134.6 L448.9 134.4 L449.9 134.0 L450.9 133.5 L451.9 133.1 L452.9 132.6 L453.9 132.1 L454.9 131.7 L455.9 131.3 L456.9 130.9 L457.9 130.3 L458.9 129.7 L459.9 129.3 L460.9 129.0 L461.9 129.1 L462.9 130.5 L463.9 133.7 L464.9 137.6 L465.9 141.6 L466.9 145.8 L467.9 151.4 L468.9 157.8 L469.9 163.6 L470.9 169.4 L471.9 174.9 L472.9 179.8 L473.9 184.4 L474.9 188.8 L475.9 193.2 L476.9 197.4 L477.9 201.2 L478.9 203.3 L479.9 203.3 L480.9 202.6 L481.9 201.8 L482.9 200.8 L483.9 199.9 L484.9 199.4 L485.9 199.3 L486.9 199.3 L487.9 199.4 L488.9 199.8 L489.9 200.7 L490.9 202.2 L491.9 204.8 L492.9 208.1 L493.9 212.3 L494.9 217.4 L495.9 223.0 L496.9 229.2 L497.9 235.8 L498.9 243.5 L499.9 253.5 L500.9 262.0 L501.9 268.3 L502.9 274.2 L503.9 279.6 L504.9 284.5 L505.9 289.0 L506.9 293.0 L507.9 296.3 L508.9 297.7 L509.9 297.0 L510.9 295.3 L511.9 293.3 L512.9 291.0 L513.9 288.6 L514.9 286.1 L515.9 283.6 L516.9 281.1 L517.9 278.6 L518.9 276.2 L519.9 273.3 L520.9 270.0 L521.9 267.8 L522.9 265.7 L523.9 263.4 L524.9 260.9 L525.9 258.3 L526.9 255.6 L527.9 252.9 L528.9 250.5 L529.9 249.0 L530.9 248.2 L531.9 247.9 L532.9 247.8 L533.9 248.0 L534.9 248.2 L535.9 248.6 L536.9 249.0 L537.9 249.6 L538.9 250.5 L539.9 252.7 L540.9 255.8 L541.9 259.4 L542.9 263.2 L543.9 267.3 L544.9 271.5 L545.9 276.1 L546.9 281.1 L547.9 286.0 L548.9 291.0 L549.9 295.7 L550.9 299.8 L551.9 303.3 L552.9 306.5 L553.9 309.2 L554.9 311.2 L555.9 312.5 L556.9 312.3 L557.9 311.4 L558.9 310.2 L559.9 308.2 L560.9 305.6 L561.9 302.5 L562.9 298.6 L563.9 293.0 L564.9 285.9 L565.9 279.5 L566.9 274.3 L567.9 269.7 L568.9 265.8 L569.9 262.6 L570.9 260.3 L571.9 259.1 L572.9 259.2 L573.9 260.3 L574.9 262.1 L575.9 265.1 L576.9 268.8 L577.9 272.6 L578.9 276.2 L579.9 279.8 L580.9 283.5 L581.9 287.7 L582.9 291.8 L583.9 295.0 L584.9 297.6 L585.9 299.8 L586.9 301.8 L587.9 303.8 L588.9 306.0 L589.9 308.4 L590.9 310.8 L591.9 313.2 L592.9 315.6 L593.9 318.0 L594.9 320.4 L595.9 322.7 L596.9 324.8 L597.9 326.3 L598.9 327.5 L599.9 328.7 L600.9 329.9 L601.9 330.9 L602.9 332.0 L603.9 333.0 L604.9 333.9 L605.9 334.7 L606.9 335.3 L607.9 335.5 L608.9 335.2 L609.9 334.8 L610.9 335.1 L611.9 335.9 L612.9 336.3 L613.9 336.0 L614.9 335.4 L615.9 334.8 L616.9 334.3 L617.9 333.8 L618.9 333.4 L619.9 333.1 L620.9 332.8 L621.9 332.2 L622.9 331.0 L623.9 329.3 L624.9 327.1 L625.9 324.6 L626.9 322.0 L627.9 319.4 L628.9 316.9 L629.9 314.4 L630.9 311.8 L631.9 309.4 L632.9 307.8 L633.9 306.6 L634.9 304.6 L635.9 301.5 L636.9 297.6 L637.9 293.8 L638.9 290.2 L639.9 287.5 L640.9 286.8 L641.9 287.4 L642.9 288.5 L643.9 290.1 L644.9 291.9 L645.9 294.1 L646.9 297.0 L647.9 300.3 L648.9 303.4 L649.9 306.5 L650.9 309.5 L651.9 312.6 L652.9 315.9 L653.9 319.1 L654.9 322.1 L655.9 324.6 L656.9 326.4 L657.9 327.6 L658.9 328.1 L659.9 328.0 L660.9 327.7 L661.9 326.7 L662.9 324.8 L663.9 322.7 L664.9 320.9 L665.9 319.6 L666.9 319.0 L667.9 319.2 L668.9 320.0 L669.9 321.1 L670.9 322.5 L671.9 324.0 L672.9 325.4 L673.9 326.7 L674.9 328.0 L675.9 329.2 L676.9 330.6 L677.9 332.0 L678.9 333.4 L679.9 334.7 L680.9 335.9 L681.9 336.9 L682.9 337.9 L683.9 338.8 L684.9 339.3 L685.9 339.6 L686.9 339.8 L687.9 340.0 L688.9 340.2 L689.9 340.4 L690.9 340.6 L691.9 340.8 L692.9 340.8 L693.9 340.7 L694.9 340.5 L695.9 340.3 L696.9 340.2 L697.9 340.3 L698.9 340.5 L699.9 340.7 L700.9 341.1 L701.9 341.7 L702.9 342.5 L703.9 343.2 L704.9 343.8 L705.9 343.6 L706.9 343.0 L707.9 342.2 L708.9 341.4 L709.9 340.4 L710.9 339.4 L711.9 338.4 L712.9 337.5 L713.9 336.7 L714.9 335.9 L715.9 335.1 L716.9 334.2 L717.9 333.2 L718.9 332.0 L719.9 329.8 L720.9 326.8 L721.9 323.8 L722.9 321.5 L723.9 319.4 L724.9 317.0 L725.9 313.8 L726.9 310.5 L727.9 307.8 L728.9 305.3 L729.9 302.9 L730.9 300.6 L731.9 298.6 L732.9 296.8 L733.9 295.7 L734.9 295.5 L735.9 295.8 L736.9 296.2 L737.9 296.8 L738.9 297.5 L739.9 298.4 L740.9 299.9 L741.9 301.7 L742.9 303.7 L743.9 305.5 L744.9 307.0 L745.9 308.3 L746.9 309.3 L747.9 309.4 L748.9 309.0 L749.9 308.8 L750.9 308.5 L751.9 308.1 L752.9 307.7 L753.9 307.3 L754.9 306.7 L755.9 305.9 L756.9 305.0 L757.9 303.9 L758.9 302.5 L759.9 300.8 L760.9 299.2 L761.9 298.2 L762.9 298.0 L763.9 298.2 L764.9 298.5 L765.9 298.7 L766.9 299.0 L767.9 299.0 L768.9 298.5 L769.9 297.4 L770.9 296.2 L771.9 294.8 L772.9 293.4 L773.9 291.9 L774.9 290.4 L775.9 289.1 L776.9 287.8 L777.9 286.6 L778.9 285.3 L779.9 284.1 L780.9 282.9 L781.9 281.8 L782.9 280.9 L783.9 280.5 L784.9 280.9 L785.9 282.3 L786.9 284.1 L787.9 286.5 L788.9 289.3 L789.9 292.4 L790.9 295.8 L791.9 299.3 L792.9 302.8 L793.9 306.3 L794.9 309.8 L795.9 313.3 L796.9 316.7 L797.9 319.9 L798.9 322.9 L799.9 325.7 L800.9 328.5 L801.9 331.3 L802.9 333.8 L803.9 335.9 L804.9 337.9 L805.9 339.9 L806.9 341.7 L807.9 343.1 L808.9 344.3 L809.9 345.5 L810.9 346.6 L811.9 347.6 L812.9 348.5 L813.9 349.3 L814.9 349.7 L815.9 349.4 L816.9 348.7 L817.9 348.0 L818.9 347.2 L819.9 346.3 L820.9 345.3 L821.9 344.2 L822.9 342.8 L823.9 341.0 L824.9 339.1 L825.9 337.0 L826.9 334.9 L827.9 332.5 L828.9 330.1 L829.9 327.6 L830.9 325.4 L831.9 323.5 L832.9 322.1 L833.9 321.5 L834.9 321.2 L835.9 321.0 L836.9 321.0 L837.9 321.1 L838.9 321.2 L839.9 321.3 L840.9 321.3 L841.9 321.2 L842.9 321.1 L843.9 320.9 L844.9 320.6 L845.9 320.1 L846.9 319.4 L847.9 318.4 L848.9 317.4 L849.9 316.3 L850.9 315.1 L851.9 313.8 L852.9 312.7 L853.9 311.9 L854.9 311.1 L855.9 310.5 L856.9 310.2 L857.9 310.1 L858.9 310.0 L859.9 309.9 L860.9 309.8 L861.9 309.7 L862.9 309.5 L863.9 309.2 L864.9 308.9 L865.9 308.6 L866.9 307.9 L867.9 306.6 L868.9 305.1 L869.9 303.6 L870.9 302.1 L871.9 300.6 L872.9 299.1 L873.9 297.6 L874.9 296.1 L875.9 294.6 L876.9 293.1 L877.9 291.6 L878.9 290.2 L879.9 288.7 L880.9 287.4 L881.9 286.1 L882.9 284.9 L883.9 283.8 L884.9 282.8 L885.9 282.3 L886.9 282.5 L887.9 283.2 L888.9 284.3 L889.9 285.7 L890.9 287.2 L891.9 288.7 L892.9 290.2 L893.9 291.7 L894.9 293.2 L895.9 294.9 L896.9 296.6 L897.9 298.3 L898.9 299.9 L899.9 301.3 L900.9 302.6 L901.9 303.5 L902.9 304.0 L903.9 304.2 L904.9 304.4 L905.9 305.0 L906.9 305.7 L907.9 306.5 L908.9 307.6 L909.9 309.0 L910.9 310.5 L911.9 312.2 L912.9 314.1 L913.9 316.1 L914.9 318.1 L915.9 320.1 L916.9 322.1 L917.9 323.9 L918.9 325.3 L919.9 326.3 L920.9 327.0 L921.9 327.7 L922.9 328.1 L923.9 328.6 L924.9 328.9 L925.9 329.1 L926.9 328.7 L927.9 328.1 L928.9 327.1 L929.9 326.0 L930.9 324.7 L931.9 323.6 L932.9 322.5 L933.9 321.5 L934.9 320.8 L935.9 320.5 L936.9 320.8 L937.9 321.4 L938.9 322.3 L939.9 323.7 L940.9 326.1 L941.9 329.2 L942.9 332.6 L943.9 335.9 L944.9 339.1 L945.9 342.1 L946.9 345.4 L947.9 349.1 L948.9 353.1 L949.9 357.0 L950.9 360.7 L951.9 364.3 L952.9 367.6 L953.9 370.2 L954.9 371.8 L955.9 372.8 L956.9 372.8 L957.9 372.5 L958.9 372.7 L959.9 373.8 L960.9 375.2 L961.9 376.5 L962.9 377.3 L963.9 377.8 L964.9 378.1 L965.9 377.9 L966.9 377.2 L967.9 376.4 L968.9 375.8 L969.9 375.2 L970.9 374.7 L971.9 374.3 L972.9 373.8 L973.9 373.3 L974.9 371.9 L975.9 369.2 L976.9 365.8 L977.9 362.0 L978.9 357.9 L979.9 353.5 L980.9 349.0 L981.9 344.9 L982.9 341.6 L983.9 338.5 L984.9 335.4 L985.9 331.6 L986.9 327.7 L987.9 324.7 L988.9 322.2 L989.9 319.7 L990.9 317.3 L991.9 315.2 L992.9 313.7 L993.9 312.5 L994.9 311.4 L995.9 310.6 L996.9 309.9 L997.9 309.3 L998.9 308.7 L999.9 308.1 L1000.9 307.5 L1001.9 306.9 L1002.9 306.3 L1003.9 305.6 L1004.9 304.9 L1005.9 304.2 L1006.9 304.1 L1007.9 304.7 L1008.9 305.7 L1009.9 306.7 L1010.9 307.7 L1011.9 308.7 L1012.9 309.7 L1013.9 310.7 L1014.9 311.7 L1015.9 312.7 L1016.9 313.6 L1017.9 314.4 L1018.9 315.0 L1019.9 315.5 L1020.9 316.0 L1021.9 316.4 L1022.9 316.2 L1023.9 315.3 L1024.9 314.1 L1025.9 312.9 L1026.9 311.7 L1027.9 310.5 L1028.9 309.3 L1029.9 308.1 L1030.9 306.8 L1031.9 305.4 L1032.9 303.8 L1033.9 302.2 L1034.9 300.6 L1035.9 299.0 L1036.9 297.4 L1037.9 295.8 L1038.9 294.2 L1039.9 292.6 L1040.9 291.0 L1041.9 289.4 L1042.9 287.8 L1043.9 286.1 L1044.9 284.5 L1045.9 282.8 L1046.9 281.1 L1047.9 279.6 L1048.9 278.4 L1049.9 277.6 L1050.9 277.0 L1051.9 276.4 L1052.9 275.9 L1053.9 275.3 L1054.9 274.8 L1055.9 274.3 L1056.9 273.8 L1057.9 273.3 L1058.9 273.0 L1059.9 273.1 L1060.9 273.7 L1061.9 274.5 L1062.9 275.6 L1063.9 277.0 L1064.9 278.6 L1065.9 280.2 L1066.9 282.0 L1067.9 284.3 L1068.9 286.8 L1069.9 289.3 L1070.9 291.8 L1071.9 294.3 L1072.9 296.7 L1073.9 298.9 L1074.9 300.6 L1075.9 302.0 L1076.9 302.7 L1077.9 302.9 L1078.9 303.0 L1079.9 303.2 L1080.9 303.7 L1081.9 304.5 L1082.9 305.8 L1083.9 307.8 L1084.9 310.6 L1085.9 312.9 L1086.9 314.7 L1087.9 316.3 L1088.9 317.9 L1089.9 319.8 L1090.9 321.7 L1091.9 323.7 L1092.9 325.7 L1093.9 327.5 L1094.9 329.2 L1095.9 330.9 L1096.9 332.6 L1097.9 333.9 L1098.9 334.3 L1099.9 333.6 L1100.9 332.6 L1101.9 331.6 L1102.9 330.3 L1103.9 328.6 L1104.9 326.9 L1105.9 325.1 L1106.9 323.1 L1107.9 321.1 L1108.9 318.8 L1109.9 316.4 L1110.9 314.5 L1111.9 312.9 L1112.9 311.5 L1113.9 310.1 L1114.9 308.8 L1115.9 307.7 L1116.9 306.7 L1117.9 305.7 L1118.9 304.9 L1119.9 304.4 L1120.9 304.4 L1121.9 304.9 L1122.9 305.8 L1123.9 307.0 L1124.9 308.2 L1125.9 309.2 L1126.9 310.0 L1127.9 310.8 L1128.9 311.6 L1129.9 312.4 L1130.9 313.2 L1131.9 314.0 L1132.9 314.6 L1133.9 314.6 L1134.9 314.0 L1135.9 313.2 L1136.9 312.4 L1137.9 311.3 L1138.9 309.8 L1139.9 308.2 L1140.9 306.6 L1141.9 304.9 L1142.9 303.0 L1143.9 301.0 L1144.9 299.0 L1145.9 296.9 L1146.9 294.7 L1147.9 292.5 L1148.9 290.3 L1149.9 288.5 L1150.9 286.9 L1151.9 285.5 L1152.9 284.5 L1153.9 284.0 L1154.9 283.8 L1155.9 283.5 L1156.9 283.4 L1157.9 283.4 L1158.9 283.9 L1159.9 284.5 L1160.9 285.1 L1161.9 285.8 L1162.9 286.5 L1163.9 287.2 L1164.9 287.7 L1165.9 288.0 L1166.9 288.2 L1167.9 288.0 L1168.9 287.2 L1169.9 286.3 L1170.9 285.3 L1171.9 284.7 L1172.9 284.9 L1173.9 285.3 L1174.9 285.8 L1175.9 286.3 L1176.9 286.8 L1177.9 287.2 L1178.9 287.4 L1179.9 287.3 L1180.9 287.1 L1181.9 287.0 L1182.9 287.3 L1183.9 287.8 L1184.9 288.3 L1185.9 288.9 L1186.9 289.6 L1187.9 290.5 L1188.9 291.6 L1189.9 292.6" fill="none" stroke="#0000ff" stroke-width="1.7" stroke-linejoin="round"/>
<path d="M140.1 483.6 L141.1 482.4 L142.1 480.9 L143.1 479.4 L144.1 477.9 L145.1 476.5 L146.1 475.3 L147.1 475.0 L148.1 474.9 L149.1 475.4 L150.1 476.4 L151.1 477.6 L152.1 479.2 L153.1 479.5 L154.1 478.2 L155.1 476.5 L156.1 473.0 L157.1 468.3 L158.1 461.9 L159.1 454.0 L160.1 447.2 L161.1 441.4 L162.1 435.9 L163.1 429.8 L164.1 424.4 L165.1 419.5 L166.1 414.9 L167.1 410.8 L168.1 408.7 L169.1 407.0 L170.1 405.5 L171.1 404.8 L172.1 404.5 L173.1 405.2 L174.1 405.9 L175.1 405.1 L176.1 403.0 L177.1 399.4 L178.1 393.8 L179.1 385.8 L180.1 380.0 L181.1 378.0 L182.1 376.1 L183.1 373.3 L184.1 370.2 L185.1 366.4 L186.1 362.7 L187.1 360.3 L188.1 358.6 L189.1 358.6 L190.1 359.2 L191.1 360.2 L192.1 361.4 L193.1 361.7 L194.1 360.6 L195.1 356.5 L196.1 349.6 L197.1 343.6 L198.1 338.8 L199.1 335.1 L200.1 331.7 L201.1 328.5 L202.1 326.0 L203.1 323.7 L204.1 322.7 L205.1 323.9 L206.1 325.4 L207.1 326.7 L208.1 327.6 L209.1 328.3 L210.1 328.8 L211.1 328.8 L212.1 328.5 L213.1 328.2 L214.1 327.5 L215.1 326.0 L216.1 324.1 L217.1 320.7 L218.1 316.8 L219.1 312.9 L220.1 309.5 L221.1 305.5 L222.1 300.6 L223.1 297.1 L224.1 294.4 L225.1 291.9 L226.1 289.8 L227.1 287.8 L228.1 286.3 L229.1 285.3 L230.1 284.7 L231.1 285.1 L232.1 285.7 L233.1 286.5 L234.1 287.2 L235.1 288.0 L236.1 288.6 L237.1 289.2 L238.1 289.7 L239.1 290.1 L240.1 290.5 L241.1 290.8 L242.1 288.7 L243.1 283.5 L244.1 278.2 L245.1 275.2 L246.1 273.1 L247.1 270.4 L248.1 266.3 L249.1 260.5 L250.1 253.2 L251.1 244.6 L252.1 237.2 L253.1 232.2 L254.1 227.8 L255.1 224.3 L256.1 222.7 L257.1 224.4 L258.1 226.6 L259.1 227.8 L260.1 228.4 L261.1 228.9 L262.1 229.2 L263.1 229.2 L264.1 229.2 L265.1 229.5 L266.1 230.8 L267.1 232.5 L268.1 235.3 L269.1 239.1 L270.1 242.4 L271.1 246.0 L272.1 251.1 L273.1 253.9 L274.1 253.8 L275.1 253.7 L276.1 254.4 L277.1 255.4 L278.1 258.0 L279.1 262.5 L280.1 268.0 L281.1 273.7 L282.1 278.8 L283.1 282.2 L284.1 283.7 L285.1 284.9 L286.1 285.4 L287.1 285.7 L288.1 285.9 L289.1 286.2 L290.1 286.4 L291.1 286.7 L292.1 286.7 L293.1 286.1 L294.1 285.2 L295.1 282.8 L296.1 279.5 L297.1 276.0 L298.1 272.1 L299.1 268.3 L300.1 266.5 L301.1 266.0 L302.1 265.5 L303.1 264.6 L304.1 263.1 L305.1 261.6 L306.1 260.6 L307.1 261.5 L308.1 262.8 L309.1 263.6 L310.1 263.9 L311.1 264.1 L312.1 264.6 L313.1 265.5 L314.1 266.5 L315.1 267.7 L316.1 269.0 L317.1 270.4 L318.1 271.7 L319.1 273.0 L320.1 274.3 L321.1 275.5 L322.1 276.8 L323.1 277.7 L324.1 278.0 L325.1 278.3 L326.1 278.5 L327.1 278.9 L328.1 279.3 L329.1 279.7 L330.1 279.9 L331.1 280.5 L332.1 280.6 L333.1 280.0 L334.1 279.1 L335.1 277.2 L336.1 274.8 L337.1 271.4 L338.1 266.5 L339.1 261.2 L340.1 255.9 L341.1 250.7 L342.1 245.4 L343.1 236.6 L344.1 229.4 L345.1 223.2 L346.1 216.7 L347.1 209.9 L348.1 201.5 L349.1 192.3 L350.1 186.6 L351.1 184.5 L352.1 186.9 L353.1 189.4 L354.1 191.3 L355.1 192.7 L356.1 191.9 L357.1 190.7 L358.1 187.4 L359.1 182.1 L360.1 176.6 L361.1 169.9 L362.1 163.9 L363.1 159.6 L364.1 157.0 L365.1 156.7 L366.1 157.0 L367.1 158.1 L368.1 159.4 L369.1 160.3 L370.1 159.5 L371.1 157.9 L372.1 155.5 L373.1 152.3 L374.1 151.0 L375.1 153.8 L376.1 160.0 L377.1 167.1 L378.1 174.4 L379.1 182.0 L380.1 190.7 L381.1 200.0 L382.1 209.1 L383.1 217.8 L384.1 226.1 L385.1 232.2 L386.1 238.7 L387.1 236.9 L388.1 230.3 L389.1 224.3 L390.1 219.6 L391.1 215.8 L392.1 214.9 L393.1 214.6 L394.1 214.8 L395.1 215.6 L396.1 216.3 L397.1 217.1 L398.1 218.0 L399.1 217.0 L400.1 214.4 L401.1 212.2 L402.1 211.4 L403.1 212.6 L404.1 216.1 L405.1 221.8 L406.1 228.8 L407.1 235.3 L408.1 240.6 L409.1 245.2 L410.1 249.4 L411.1 253.4 L412.1 256.4 L413.1 257.1 L414.1 257.3 L415.1 256.2 L416.1 254.2 L417.1 253.5 L418.1 255.3 L419.1 253.6 L420.1 247.8 L421.1 240.1 L422.1 234.7 L423.1 221.9 L424.1 208.4 L425.1 196.0 L426.1 180.3 L427.1 159.6 L428.1 129.2 L429.1 113.6 L430.1 101.7 L431.1 90.8 L432.1 84.0 L433.1 80.0 L434.1 78.1 L435.1 77.5 L436.1 77.3 L437.1 77.7 L438.1 78.4 L439.1 81.1 L440.1 85.4 L441.1 91.0 L442.1 95.7 L443.1 98.4 L444.1 100.4 L445.1 101.6 L446.1 102.7 L447.1 103.5 L448.1 103.9 L449.1 104.1 L450.1 103.8 L451.1 103.1 L452.1 101.4 L453.1 98.2 L454.1 96.0 L455.1 94.6 L456.1 93.6 L457.1 93.2 L458.1 92.9 L459.1 92.7 L460.1 92.9 L461.1 93.1 L462.1 91.3 L463.1 85.9 L464.1 80.2 L465.1 75.3 L466.1 73.3 L467.1 73.5 L468.1 75.8 L469.1 80.3 L470.1 86.2 L471.1 92.2 L472.1 98.5 L473.1 105.5 L474.1 114.2 L475.1 124.1 L476.1 134.1 L477.1 144.2 L478.1 156.7 L479.1 163.3 L480.1 161.1 L481.1 158.3 L482.1 155.3 L483.1 153.4 L484.1 152.9 L485.1 152.6 L486.1 153.7 L487.1 155.0 L488.1 155.4 L489.1 154.4 L490.1 151.9 L491.1 149.5 L492.1 144.9 L493.1 139.6 L494.1 136.4 L495.1 135.8 L496.1 139.3 L497.1 145.2 L498.1 151.9 L499.1 159.7 L500.1 170.3 L501.1 182.8 L502.1 193.3 L503.1 203.3 L504.1 213.3 L505.1 223.3 L506.1 233.3 L507.1 246.0 L508.1 269.4 L509.1 277.7 L510.1 268.1 L511.1 260.3 L512.1 253.1 L513.1 244.8 L514.1 240.8 L515.1 238.1 L516.1 235.6 L517.1 234.3 L518.1 233.3 L519.1 232.7 L520.1 233.1 L521.1 233.2 L522.1 232.9 L523.1 232.4 L524.1 229.9 L525.1 226.2 L526.1 221.7 L527.1 215.6 L528.1 211.8 L529.1 210.4 L530.1 209.8 L531.1 209.4 L532.1 209.1 L533.1 208.9 L534.1 208.6 L535.1 208.4 L536.1 208.1 L537.1 207.9 L538.1 207.7 L539.1 207.8 L540.1 208.1 L541.1 209.8 L542.1 214.3 L543.1 220.4 L544.1 227.4 L545.1 235.2 L546.1 242.7 L547.1 245.2 L548.1 241.0 L549.1 237.0 L550.1 238.5 L551.1 242.6 L552.1 247.2 L553.1 251.9 L554.1 257.0 L555.1 262.3 L556.1 265.4 L557.1 263.1 L558.1 259.3 L559.1 251.4 L560.1 240.5 L561.1 229.6 L562.1 221.5 L563.1 217.9 L564.1 215.1 L565.1 212.4 L566.1 210.1 L567.1 209.0 L568.1 209.8 L569.1 212.7 L570.1 215.4 L571.1 218.1 L572.1 220.5 L573.1 222.3 L574.1 220.3 L575.1 215.9 L576.1 213.5 L577.1 212.8 L578.1 216.7 L579.1 221.9 L580.1 226.4 L581.1 230.4 L582.1 234.6 L583.1 239.2 L584.1 243.9 L585.1 248.5 L586.1 253.2 L587.1 258.9 L588.1 266.5 L589.1 273.5 L590.1 278.5 L591.1 278.4 L592.1 276.3 L593.1 273.9 L594.1 272.3 L595.1 272.6 L596.1 273.1 L597.1 273.9 L598.1 275.1 L599.1 276.7 L600.1 279.7 L601.1 285.2 L602.1 294.3 L603.1 298.9 L604.1 301.0 L605.1 303.0 L606.1 304.9 L607.1 306.0 L608.1 307.0 L609.1 308.0 L610.1 308.9 L611.1 308.6 L612.1 307.9 L613.1 307.1 L614.1 306.1 L615.1 304.7 L616.1 303.4 L617.1 302.1 L618.1 300.8 L619.1 299.7 L620.1 298.9 L621.1 298.2 L622.1 297.2 L623.1 295.7 L624.1 294.0 L625.1 291.9 L626.1 288.6 L627.1 287.8 L628.1 287.7 L629.1 285.7 L630.1 281.5 L631.1 277.4 L632.1 273.4 L633.1 268.7 L634.1 265.9 L635.1 262.8 L636.1 258.4 L637.1 253.8 L638.1 250.8 L639.1 249.1 L640.1 247.4 L641.1 245.8 L642.1 244.1 L643.1 242.4 L644.1 240.8 L645.1 238.4 L646.1 233.8 L647.1 228.9 L648.1 228.2 L649.1 231.2 L650.1 234.4 L651.1 238.0 L652.1 241.8 L653.1 248.2 L654.1 257.9 L655.1 270.8 L656.1 279.9 L657.1 285.4 L658.1 287.4 L659.1 288.9 L660.1 289.6 L661.1 290.0 L662.1 291.1 L663.1 293.4 L664.1 295.0 L665.1 296.0 L666.1 297.1 L667.1 298.6 L668.1 300.1 L669.1 301.6 L670.1 303.0 L671.1 304.3 L672.1 304.8 L673.1 304.2 L674.1 303.5 L675.1 302.9 L676.1 303.0 L677.1 303.4 L678.1 304.8 L679.1 307.4 L680.1 310.2 L681.1 313.6 L682.1 317.0 L683.1 318.8 L684.1 320.4 L685.1 320.9 L686.1 320.9 L687.1 320.9 L688.1 320.9 L689.1 320.9 L690.1 320.9 L691.1 321.0 L692.1 321.4 L693.1 321.9 L694.1 322.4 L695.1 322.7 L696.1 323.0 L697.1 323.3 L698.1 324.0 L699.1 325.3 L700.1 326.6 L701.1 327.9 L702.1 329.3 L703.1 330.3 L704.1 331.0 L705.1 331.5 L706.1 331.2 L707.1 330.5 L708.1 329.0 L709.1 326.4 L710.1 323.9 L711.1 322.3 L712.1 320.9 L713.1 319.8 L714.1 319.0 L715.1 318.3 L716.1 317.6 L717.1 317.2 L718.1 315.4 L719.1 309.7 L720.1 303.8 L721.1 296.9 L722.1 289.9 L723.1 284.0 L724.1 279.9 L725.1 276.5 L726.1 273.5 L727.1 270.7 L728.1 268.4 L729.1 266.2 L730.1 264.7 L731.1 265.2 L732.1 266.7 L733.1 269.9 L734.1 273.9 L735.1 278.0 L736.1 279.7 L737.1 280.2 L738.1 280.7 L739.1 281.1 L740.1 281.3 L741.1 281.6 L742.1 281.4 L743.1 280.2 L744.1 280.1 L745.1 281.7 L746.1 283.4 L747.1 285.6 L748.1 287.8 L749.1 287.9 L750.1 287.2 L751.1 286.4 L752.1 285.4 L753.1 284.2 L754.1 283.0 L755.1 281.8 L756.1 280.7 L757.1 279.7 L758.1 278.9 L759.1 278.9 L760.1 279.6 L761.1 280.8 L762.1 282.9 L763.1 284.7 L764.1 284.8 L765.1 284.5 L766.1 284.3 L767.1 284.1 L768.1 283.6 L769.1 281.5 L770.1 278.1 L771.1 273.3 L772.1 267.9 L773.1 262.2 L774.1 258.4 L775.1 256.0 L776.1 254.4 L777.1 252.9 L778.1 251.5 L779.1 251.4 L780.1 252.1 L781.1 252.8 L782.1 253.2 L783.1 253.0 L784.1 252.8 L785.1 252.4 L786.1 251.2 L787.1 250.0 L788.1 250.4 L789.1 252.6 L790.1 254.9 L791.1 257.0 L792.1 259.0 L793.1 261.1 L794.1 264.2 L795.1 268.2 L796.1 272.7 L797.1 278.4 L798.1 284.4 L799.1 290.3 L800.1 294.9 L801.1 298.9 L802.1 302.7 L803.1 306.1 L804.1 309.4 L805.1 312.7 L806.1 316.1 L807.1 319.2 L808.1 322.0 L809.1 325.0 L810.1 327.7 L811.1 330.5 L812.1 332.7 L813.1 333.8 L814.1 334.8 L815.1 335.6 L816.1 335.3 L817.1 334.5 L818.1 333.7 L819.1 332.6 L820.1 331.1 L821.1 329.6 L822.1 326.9 L823.1 318.5 L824.1 312.2 L825.1 307.3 L826.1 301.7 L827.1 297.2 L828.1 295.6 L829.1 294.7 L830.1 294.5 L831.1 294.7 L832.1 295.0 L833.1 295.2 L834.1 295.5 L835.1 295.7 L836.1 296.0 L837.1 296.5 L838.1 297.0 L839.1 297.5 L840.1 297.8 L841.1 298.1 L842.1 298.3 L843.1 297.7 L844.1 295.9 L845.1 294.0 L846.1 292.9 L847.1 292.1 L848.1 291.4 L849.1 291.1 L850.1 291.3 L851.1 291.6 L852.1 292.0 L853.1 292.9 L854.1 293.9 L855.1 294.6 L856.1 295.1 L857.1 295.6 L858.1 296.2 L859.1 296.8 L860.1 297.4 L861.1 297.4 L862.1 297.3 L863.1 297.2 L864.1 296.6 L865.1 296.0 L866.1 295.6 L867.1 295.2 L868.1 294.0 L869.1 292.0 L870.1 290.1 L871.1 288.3 L872.1 286.6 L873.1 283.9 L874.1 280.2 L875.1 276.9 L876.1 274.6 L877.1 272.7 L878.1 270.9 L879.1 269.4 L880.1 267.9 L881.1 266.9 L882.1 266.7 L883.1 266.7 L884.1 266.8 L885.1 267.1 L886.1 267.6 L887.1 268.1 L888.1 267.3 L889.1 265.4 L890.1 263.5 L891.1 262.4 L892.1 262.2 L893.1 263.0 L894.1 264.3 L895.1 266.7 L896.1 269.7 L897.1 272.6 L898.1 275.3 L899.1 278.1 L900.1 282.2 L901.1 286.8 L902.1 290.5 L903.1 292.7 L904.1 294.5 L905.1 294.8 L906.1 294.5 L907.1 293.6 L908.1 291.7 L909.1 289.6 L910.1 287.2 L911.1 284.5 L912.1 282.7 L913.1 282.2 L914.1 282.1 L915.1 283.3 L916.1 285.3 L917.1 287.8 L918.1 291.0 L919.1 294.3 L920.1 297.1 L921.1 299.8 L922.1 301.9 L923.1 303.1 L924.1 304.1 L925.1 305.1 L926.1 306.1 L927.1 307.1 L928.1 308.0 L929.1 308.2 L930.1 307.7 L931.1 307.2 L932.1 307.0 L933.1 307.1 L934.1 307.4 L935.1 307.6 L936.1 307.9 L937.1 308.1 L938.1 308.2 L939.1 305.2 L940.1 299.3 L941.1 293.3 L942.1 288.6 L943.1 286.5 L944.1 285.0 L945.1 284.7 L946.1 285.4 L947.1 286.7 L948.1 289.5 L949.1 292.9 L950.1 299.6 L951.1 308.5 L952.1 317.5 L953.1 326.6 L954.1 336.1 L955.1 344.2 L956.1 351.7 L957.1 352.8 L958.1 352.1 L959.1 351.3 L960.1 350.3 L961.1 349.3 L962.1 348.5 L963.1 348.1 L964.1 347.9 L965.1 347.5 L966.1 346.6 L967.1 345.3 L968.1 343.7 L969.1 342.0 L970.1 340.4 L971.1 338.9 L972.1 337.4 L973.1 335.6 L974.1 333.6 L975.1 331.4 L976.1 328.6 L977.1 324.9 L978.1 315.2 L979.1 308.9 L980.1 305.2 L981.1 302.3 L982.1 299.7 L983.1 297.4 L984.1 295.4 L985.1 293.3 L986.1 291.0 L987.1 288.8 L988.1 288.4 L989.1 289.7 L990.1 291.0 L991.1 292.3 L992.1 293.5 L993.1 294.7 L994.1 295.6 L995.1 296.3 L996.1 296.0 L997.1 293.6 L998.1 291.1 L999.1 289.8 L1000.1 289.3 L1001.1 288.8 L1002.1 288.3 L1003.1 287.7 L1004.1 287.1 L1005.1 286.5 L1006.1 285.9 L1007.1 285.3 L1008.1 284.7 L1009.1 284.1 L1010.1 283.7 L1011.1 284.4 L1012.1 285.4 L1013.1 286.4 L1014.1 287.4 L1015.1 288.4 L1016.1 289.5 L1017.1 290.8 L1018.1 292.8 L1019.1 294.8 L1020.1 296.7 L1021.1 298.1 L1022.1 299.4 L1023.1 298.8 L1024.1 296.3 L1025.1 293.9 L1026.1 292.5 L1027.1 291.5 L1028.1 290.6 L1029.1 289.8 L1030.1 289.3 L1031.1 288.8 L1032.1 286.7 L1033.1 281.7 L1034.1 276.4 L1035.1 271.3 L1036.1 267.2 L1037.1 265.7 L1038.1 264.7 L1039.1 263.7 L1040.1 262.8 L1041.1 262.1 L1042.1 261.4 L1043.1 261.3 L1044.1 261.9 L1045.1 262.7 L1046.1 263.4 L1047.1 263.9 L1048.1 264.4 L1049.1 264.8 L1050.1 264.3 L1051.1 263.4 L1052.1 262.4 L1053.1 261.4 L1054.1 260.8 L1055.1 260.6 L1056.1 260.4 L1057.1 260.2 L1058.1 259.7 L1059.1 259.0 L1060.1 258.2 L1061.1 257.4 L1062.1 256.6 L1063.1 255.8 L1064.1 255.1 L1065.1 254.3 L1066.1 253.6 L1067.1 253.0 L1068.1 253.2 L1069.1 254.8 L1070.1 256.6 L1071.1 259.5 L1072.1 262.8 L1073.1 266.9 L1074.1 272.1 L1075.1 277.3 L1076.1 282.0 L1077.1 285.4 L1078.1 285.7 L1079.1 285.4 L1080.1 285.0 L1081.1 283.1 L1082.1 280.6 L1083.1 278.2 L1084.1 276.2 L1085.1 275.0 L1086.1 273.7 L1087.1 272.6 L1088.1 272.0 L1089.1 271.5 L1090.1 271.3 L1091.1 272.7 L1092.1 275.9 L1093.1 281.9 L1094.1 288.0 L1095.1 294.1 L1096.1 300.7 L1097.1 307.1 L1098.1 310.0 L1099.1 310.2 L1100.1 310.5 L1101.1 309.0 L1102.1 307.8 L1103.1 306.8 L1104.1 303.9 L1105.1 300.0 L1106.1 296.4 L1107.1 293.6 L1108.1 291.0 L1109.1 289.2 L1110.1 287.9 L1111.1 286.6 L1112.1 285.6 L1113.1 284.7 L1114.1 284.8 L1115.1 285.6 L1116.1 286.3 L1117.1 287.4 L1118.1 288.8 L1119.1 290.3 L1120.1 291.5 L1121.1 291.6 L1122.1 291.3 L1123.1 291.2 L1124.1 291.8 L1125.1 293.1 L1126.1 294.3 L1127.1 295.4 L1128.1 296.2 L1129.1 297.0 L1130.1 297.8 L1131.1 298.7 L1132.1 299.9 L1133.1 301.2 L1134.1 302.1 L1135.1 301.3 L1136.1 299.5 L1137.1 297.8 L1138.1 295.6 L1139.1 292.9 L1140.1 289.8 L1141.1 284.5 L1142.1 279.9 L1143.1 277.6 L1144.1 275.4 L1145.1 272.0 L1146.1 268.0 L1147.1 264.9 L1148.1 263.2 L1149.1 261.7 L1150.1 260.4 L1151.1 260.2 L1152.1 260.4 L1153.1 260.6 L1154.1 260.8 L1155.1 261.0 L1156.1 261.2 L1157.1 261.4 L1158.1 261.7 L1159.1 262.1 L1160.1 262.7 L1161.1 263.3 L1162.1 263.9 L1163.1 265.0 L1164.1 266.7 L1165.1 268.4 L1166.1 269.9 L1167.1 270.4 L1168.1 270.8 L1169.1 270.8 L1170.1 270.6 L1171.1 270.4 L1172.1 270.2 L1173.1 270.0 L1174.1 269.8 L1175.1 269.6 L1176.1 269.4 L1177.1 269.3 L1178.1 269.5 L1179.1 269.8 L1180.1 270.2 L1181.1 271.3 L1182.1 272.8 L1183.1 274.3 L1184.1 276.1 L1185.1 278.1 L1186.1 280.1 L1187.1 281.8 L1188.1 282.6 L1189.1 283.4 L1190.1 284.0" fill="none" stroke="#e62a20" stroke-opacity="0.82" stroke-width="1.35" stroke-dasharray="4.0 2.05"/>
<path d="M140.1 510.7 L141.1 513.0 L142.1 515.6 L143.1 517.1 L144.1 517.5 L145.1 517.7 L146.1 517.6 L147.1 517.3 L148.1 517.1 L149.1 517.3 L150.1 517.8 L151.1 518.3 L152.1 518.7 L153.1 518.9 L154.1 519.0 L155.1 519.2 L156.1 519.4 L157.1 519.6 L158.1 519.8 L159.1 520.1 L160.1 520.5 L161.1 521.7 L162.1 523.2 L163.1 523.8 L164.1 522.0 L165.1 519.1 L166.1 513.1 L167.1 506.1 L168.1 499.0 L169.1 491.7 L170.1 484.4 L171.1 477.6 L172.1 470.9 L173.1 464.1 L174.1 457.5 L175.1 454.0 L176.1 452.3 L177.1 451.0 L178.1 450.5 L179.1 450.1 L180.1 448.7 L181.1 446.7 L182.1 444.6 L183.1 442.1 L184.1 439.6 L185.1 436.2 L186.1 430.7 L187.1 426.7 L188.1 422.7 L189.1 418.6 L190.1 414.0 L191.1 409.4 L192.1 404.7 L193.1 400.2 L194.1 396.4 L195.1 396.2 L196.1 397.2 L197.1 398.0 L198.1 397.6 L199.1 396.9 L200.1 396.1 L201.1 395.3 L202.1 393.8 L203.1 392.2 L204.1 390.3 L205.1 387.6 L206.1 384.3 L207.1 379.0 L208.1 373.6 L209.1 370.8 L210.1 369.1 L211.1 367.7 L212.1 367.5 L213.1 367.8 L214.1 368.2 L215.1 369.3 L216.1 370.6 L217.1 371.9 L218.1 372.8 L219.1 373.6 L220.1 373.8 L221.1 372.7 L222.1 371.2 L223.1 368.2 L224.1 364.6 L225.1 360.8 L226.1 356.5 L227.1 351.8 L228.1 347.1 L229.1 342.5 L230.1 337.5 L231.1 332.2 L232.1 328.4 L233.1 324.8 L234.1 321.9 L235.1 319.4 L236.1 317.2 L237.1 315.7 L238.1 314.4 L239.1 313.2 L240.1 312.4 L241.1 311.7 L242.1 311.4 L243.1 312.6 L244.1 314.2 L245.1 316.6 L246.1 318.9 L247.1 320.4 L248.1 321.7 L249.1 323.0 L250.1 323.8 L251.1 324.4 L252.1 324.6 L253.1 322.7 L254.1 320.0 L255.1 316.2 L256.1 312.1 L257.1 307.3 L258.1 301.7 L259.1 296.5 L260.1 293.9 L261.1 292.8 L262.1 292.1 L263.1 291.4 L264.1 291.7 L265.1 292.7 L266.1 294.1 L267.1 296.5 L268.1 299.5 L269.1 303.2 L270.1 306.4 L271.1 307.8 L272.1 308.7 L273.1 312.3 L274.1 319.3 L275.1 326.6 L276.1 331.5 L277.1 333.4 L278.1 334.8 L279.1 335.6 L280.1 335.8 L281.1 334.4 L282.1 332.3 L283.1 329.9 L284.1 329.3 L285.1 331.4 L286.1 333.5 L287.1 334.3 L288.1 334.5 L289.1 334.5 L290.1 333.6 L291.1 332.6 L292.1 332.7 L293.1 333.4 L294.1 334.1 L295.1 335.3 L296.1 336.6 L297.1 337.9 L298.1 339.0 L299.1 340.0 L300.1 340.6 L301.1 339.1 L302.1 336.6 L303.1 334.1 L304.1 331.8 L305.1 330.8 L306.1 330.0 L307.1 327.7 L308.1 324.6 L309.1 320.6 L310.1 316.9 L311.1 317.9 L312.1 321.2 L313.1 323.6 L314.1 325.5 L315.1 326.4 L316.1 326.7 L317.1 327.0 L318.1 327.2 L319.1 327.4 L320.1 327.5 L321.1 327.0 L322.1 326.2 L323.1 325.3 L324.1 324.4 L325.1 323.3 L326.1 321.6 L327.1 319.7 L328.1 318.4 L329.1 317.6 L330.1 319.5 L331.1 320.2 L332.1 320.2 L333.1 320.2 L334.1 320.2 L335.1 320.2 L336.1 320.3 L337.1 321.3 L338.1 323.7 L339.1 326.2 L340.1 328.5 L341.1 330.2 L342.1 331.7 L343.1 332.7 L344.1 330.2 L345.1 325.7 L346.1 321.2 L347.1 317.1 L348.1 313.1 L349.1 309.0 L350.1 304.3 L351.1 299.3 L352.1 294.2 L353.1 288.0 L354.1 280.7 L355.1 274.2 L356.1 270.9 L357.1 268.4 L358.1 266.1 L359.1 264.8 L360.1 264.3 L361.1 263.8 L362.1 263.4 L363.1 263.4 L364.1 263.4 L365.1 263.4 L366.1 263.2 L367.1 262.7 L368.1 262.0 L369.1 261.3 L370.1 260.7 L371.1 261.7 L372.1 266.9 L373.1 274.3 L374.1 282.9 L375.1 289.8 L376.1 295.8 L377.1 300.8 L378.1 304.0 L379.1 306.7 L380.1 307.7 L381.1 307.7 L382.1 306.4 L383.1 303.1 L384.1 299.6 L385.1 297.5 L386.1 296.2 L387.1 296.0 L388.1 297.7 L389.1 299.6 L390.1 301.2 L391.1 302.5 L392.1 302.9 L393.1 301.7 L394.1 300.2 L395.1 298.4 L396.1 295.3 L397.1 291.7 L398.1 288.1 L399.1 285.4 L400.1 289.3 L401.1 296.7 L402.1 302.4 L403.1 307.6 L404.1 309.8 L405.1 309.2 L406.1 308.5 L407.1 307.5 L408.1 306.5 L409.1 305.5 L410.1 304.5 L411.1 303.5 L412.1 302.5 L413.1 301.9 L414.1 301.9 L415.1 301.9 L416.1 301.4 L417.1 298.9 L418.1 295.9 L419.1 293.2 L420.1 293.2 L421.1 295.2 L422.1 298.0 L423.1 303.0 L424.1 308.1 L425.1 311.5 L426.1 313.8 L427.1 315.9 L428.1 317.9 L429.1 319.7 L430.1 319.4 L431.1 315.8 L432.1 308.4 L433.1 295.8 L434.1 281.6 L435.1 266.8 L436.1 244.7 L437.1 230.1 L438.1 218.5 L439.1 205.2 L440.1 191.9 L441.1 179.0 L442.1 169.8 L443.1 166.3 L444.1 165.4 L445.1 165.9 L446.1 166.4 L447.1 166.5 L448.1 166.1 L449.1 165.6 L450.1 165.3 L451.1 166.0 L452.1 167.0 L453.1 168.0 L454.1 168.8 L455.1 169.5 L456.1 169.7 L457.1 168.6 L458.1 167.2 L459.1 165.9 L460.1 164.6 L461.1 163.5 L462.1 163.5 L463.1 167.9 L464.1 175.8 L465.1 184.6 L466.1 200.6 L467.1 215.2 L468.1 223.9 L469.1 226.8 L470.1 232.4 L471.1 241.6 L472.1 250.8 L473.1 256.6 L474.1 258.9 L475.1 258.7 L476.1 257.7 L477.1 254.8 L478.1 250.9 L479.1 245.1 L480.1 244.1 L481.1 244.5 L482.1 245.2 L483.1 246.0 L484.1 246.6 L485.1 246.2 L486.1 245.2 L487.1 244.2 L488.1 243.2 L489.1 242.6 L490.1 245.3 L491.1 249.3 L492.1 254.5 L493.1 267.7 L494.1 284.3 L495.1 301.5 L496.1 315.1 L497.1 325.9 L498.1 333.8 L499.1 340.8 L500.1 344.8 L501.1 346.9 L502.1 347.6 L503.1 345.2 L504.1 342.2 L505.1 338.9 L506.1 334.3 L507.1 328.9 L508.1 323.7 L509.1 319.2 L510.1 319.5 L511.1 323.5 L512.1 328.3 L513.1 330.5 L514.1 328.5 L515.1 325.7 L516.1 322.1 L517.1 318.1 L518.1 314.1 L519.1 310.5 L520.1 306.8 L521.1 303.8 L522.1 301.1 L523.1 297.7 L524.1 293.1 L525.1 287.2 L526.1 284.3 L527.1 284.8 L528.1 285.7 L529.1 286.2 L530.1 286.3 L531.1 286.5 L532.1 286.6 L533.1 286.7 L534.1 286.8 L535.1 287.2 L536.1 288.3 L537.1 289.7 L538.1 291.5 L539.1 293.1 L540.1 296.4 L541.1 302.9 L542.1 305.7 L543.1 306.7 L544.1 306.7 L545.1 308.0 L546.1 314.8 L547.1 322.8 L548.1 330.8 L549.1 339.4 L550.1 348.0 L551.1 354.4 L552.1 358.9 L553.1 361.0 L554.1 361.4 L555.1 360.8 L556.1 360.6 L557.1 361.7 L558.1 363.1 L559.1 364.8 L560.1 367.3 L561.1 371.7 L562.1 375.2 L563.1 376.1 L564.1 371.8 L565.1 363.8 L566.1 355.0 L567.1 345.6 L568.1 335.6 L569.1 323.8 L570.1 311.6 L571.1 302.6 L572.1 296.1 L573.1 295.4 L574.1 299.8 L575.1 309.2 L576.1 319.5 L577.1 325.2 L578.1 329.8 L579.1 333.7 L580.1 337.1 L581.1 340.7 L582.1 345.4 L583.1 347.4 L584.1 345.7 L585.1 343.7 L586.1 341.4 L587.1 339.1 L588.1 338.4 L589.1 339.8 L590.1 341.6 L591.1 344.3 L592.1 349.7 L593.1 355.7 L594.1 361.6 L595.1 366.3 L596.1 370.1 L597.1 373.0 L598.1 375.6 L599.1 376.5 L600.1 375.9 L601.1 374.5 L602.1 370.2 L603.1 367.0 L604.1 366.2 L605.1 365.7 L606.1 365.1 L607.1 363.9 L608.1 362.5 L609.1 360.9 L610.1 358.9 L611.1 357.8 L612.1 360.8 L613.1 363.5 L614.1 364.4 L615.1 365.1 L616.1 365.6 L617.1 366.1 L618.1 366.6 L619.1 366.9 L620.1 366.9 L621.1 366.9 L622.1 366.6 L623.1 365.4 L624.1 364.0 L625.1 361.9 L626.1 359.2 L627.1 356.1 L628.1 351.7 L629.1 347.2 L630.1 344.4 L631.1 343.0 L632.1 342.4 L633.1 343.1 L634.1 341.9 L635.1 339.9 L636.1 337.3 L637.1 333.5 L638.1 329.5 L639.1 326.0 L640.1 323.2 L641.1 324.6 L642.1 328.4 L643.1 332.9 L644.1 338.1 L645.1 344.7 L646.1 352.6 L647.1 362.2 L648.1 371.2 L649.1 378.5 L650.1 382.2 L651.1 384.1 L652.1 382.9 L653.1 379.3 L654.1 373.7 L655.1 367.9 L656.1 366.9 L657.1 366.9 L658.1 366.7 L659.1 366.5 L660.1 366.2 L661.1 364.5 L662.1 359.6 L663.1 353.3 L664.1 346.9 L665.1 343.5 L666.1 341.5 L667.1 339.9 L668.1 338.8 L669.1 338.1 L670.1 339.5 L671.1 341.8 L672.1 344.4 L673.1 347.3 L674.1 349.3 L675.1 350.7 L676.1 352.4 L677.1 355.2 L678.1 358.2 L679.1 360.9 L680.1 361.8 L681.1 361.8 L682.1 361.6 L683.1 361.0 L684.1 360.4 L685.1 359.9 L686.1 359.6 L687.1 359.1 L688.1 358.5 L689.1 358.0 L690.1 358.4 L691.1 359.4 L692.1 359.9 L693.1 359.3 L694.1 358.7 L695.1 358.5 L696.1 358.5 L697.1 358.4 L698.1 358.2 L699.1 357.9 L700.1 357.7 L701.1 357.2 L702.1 356.7 L703.1 356.2 L704.1 355.6 L705.1 354.8 L706.1 354.1 L707.1 353.6 L708.1 353.8 L709.1 354.0 L710.1 354.2 L711.1 354.1 L712.1 353.9 L713.1 353.6 L714.1 353.2 L715.1 352.7 L716.1 352.2 L717.1 352.2 L718.1 353.0 L719.1 354.8 L720.1 357.1 L721.1 358.5 L722.1 358.6 L723.1 356.6 L724.1 354.3 L725.1 352.6 L726.1 351.3 L727.1 349.9 L728.1 348.2 L729.1 346.4 L730.1 343.0 L731.1 338.0 L732.1 330.6 L733.1 322.2 L734.1 312.3 L735.1 309.4 L736.1 308.8 L737.1 309.3 L738.1 310.0 L739.1 310.8 L740.1 311.7 L741.1 312.7 L742.1 314.7 L743.1 319.7 L744.1 328.0 L745.1 330.8 L746.1 331.3 L747.1 331.6 L748.1 331.6 L749.1 331.7 L750.1 331.7 L751.1 331.8 L752.1 331.9 L753.1 332.0 L754.1 332.2 L755.1 332.5 L756.1 332.8 L757.1 332.3 L758.1 328.7 L759.1 323.3 L760.1 318.3 L761.1 313.4 L762.1 310.0 L763.1 308.9 L764.1 309.0 L765.1 309.7 L766.1 310.5 L767.1 311.8 L768.1 313.1 L769.1 314.5 L770.1 315.8 L771.1 317.7 L772.1 321.5 L773.1 324.4 L774.1 326.0 L775.1 325.6 L776.1 324.3 L777.1 322.4 L778.1 319.4 L779.1 316.3 L780.1 313.0 L781.1 309.9 L782.1 307.1 L783.1 304.8 L784.1 305.3 L785.1 307.9 L786.1 310.8 L787.1 314.0 L788.1 318.3 L789.1 324.8 L790.1 329.9 L791.1 334.9 L792.1 339.2 L793.1 342.3 L794.1 344.7 L795.1 346.7 L796.1 348.9 L797.1 351.4 L798.1 354.1 L799.1 356.8 L800.1 359.4 L801.1 361.7 L802.1 362.9 L803.1 363.9 L804.1 364.5 L805.1 364.9 L806.1 364.9 L807.1 364.1 L808.1 363.1 L809.1 362.5 L810.1 362.2 L811.1 362.1 L812.1 362.9 L813.1 363.9 L814.1 364.0 L815.1 363.6 L816.1 363.1 L817.1 362.7 L818.1 362.4 L819.1 362.2 L820.1 362.0 L821.1 362.2 L822.1 363.6 L823.1 365.3 L824.1 367.3 L825.1 369.6 L826.1 371.3 L827.1 370.8 L828.1 367.8 L829.1 362.1 L830.1 356.8 L831.1 352.2 L832.1 349.8 L833.1 348.4 L834.1 347.8 L835.1 347.3 L836.1 346.8 L837.1 346.4 L838.1 346.0 L839.1 345.6 L840.1 345.3 L841.1 345.3 L842.1 345.6 L843.1 345.8 L844.1 346.3 L845.1 347.1 L846.1 347.8 L847.1 347.9 L848.1 346.2 L849.1 344.1 L850.1 340.9 L851.1 336.9 L852.1 333.0 L853.1 328.0 L854.1 324.7 L855.1 323.0 L856.1 322.1 L857.1 321.9 L858.1 321.9 L859.1 321.9 L860.1 321.9 L861.1 322.0 L862.1 322.3 L863.1 322.6 L864.1 322.9 L865.1 323.1 L866.1 323.4 L867.1 323.5 L868.1 323.5 L869.1 323.3 L870.1 321.7 L871.1 319.8 L872.1 318.6 L873.1 318.5 L874.1 318.5 L875.1 318.4 L876.1 317.8 L877.1 317.1 L878.1 316.1 L879.1 314.8 L880.1 313.1 L881.1 310.1 L882.1 306.7 L883.1 303.8 L884.1 301.1 L885.1 298.5 L886.1 296.5 L887.1 296.9 L888.1 300.5 L889.1 304.5 L890.1 308.2 L891.1 310.5 L892.1 312.5 L893.1 314.5 L894.1 316.5 L895.1 318.5 L896.1 320.2 L897.1 321.8 L898.1 322.2 L899.1 321.2 L900.1 320.1 L901.1 318.2 L902.1 316.3 L903.1 314.9 L904.1 314.2 L905.1 313.6 L906.1 313.5 L907.1 313.6 L908.1 316.1 L909.1 321.3 L910.1 327.0 L911.1 333.0 L912.1 337.4 L913.1 345.0 L914.1 350.2 L915.1 353.1 L916.1 355.6 L917.1 357.9 L918.1 358.7 L919.1 357.8 L920.1 356.8 L921.1 355.8 L922.1 354.8 L923.1 353.9 L924.1 353.1 L925.1 352.6 L926.1 352.1 L927.1 350.5 L928.1 346.9 L929.1 344.0 L930.1 341.9 L931.1 339.9 L932.1 337.9 L933.1 335.9 L934.1 334.1 L935.1 333.6 L936.1 333.6 L937.1 334.4 L938.1 337.4 L939.1 344.8 L940.1 355.2 L941.1 366.8 L942.1 377.0 L943.1 385.4 L944.1 391.6 L945.1 396.7 L946.1 401.4 L947.1 405.3 L948.1 407.6 L949.1 409.6 L950.1 411.5 L951.1 413.4 L952.1 412.5 L953.1 408.8 L954.1 404.6 L955.1 399.9 L956.1 395.8 L957.1 393.9 L958.1 392.6 L959.1 393.4 L960.1 396.4 L961.1 400.1 L962.1 404.1 L963.1 406.9 L964.1 407.8 L965.1 408.3 L966.1 408.2 L967.1 407.7 L968.1 407.8 L969.1 407.9 L970.1 408.2 L971.1 408.7 L972.1 409.2 L973.1 409.6 L974.1 409.8 L975.1 410.0 L976.1 409.0 L977.1 405.5 L978.1 401.5 L979.1 397.5 L980.1 393.5 L981.1 389.5 L982.1 385.5 L983.1 381.5 L984.1 377.5 L985.1 373.5 L986.1 370.0 L987.1 366.5 L988.1 362.6 L989.1 355.7 L990.1 347.0 L991.1 338.9 L992.1 332.4 L993.1 328.5 L994.1 326.8 L995.1 326.5 L996.1 326.2 L997.1 326.2 L998.1 326.5 L999.1 326.7 L1000.1 326.3 L1001.1 325.5 L1002.1 324.8 L1003.1 323.9 L1004.1 322.9 L1005.1 321.9 L1006.1 321.5 L1007.1 322.2 L1008.1 323.4 L1009.1 325.6 L1010.1 328.3 L1011.1 329.6 L1012.1 330.6 L1013.1 332.6 L1014.1 334.6 L1015.1 336.2 L1016.1 336.3 L1017.1 335.9 L1018.1 335.5 L1019.1 335.1 L1020.1 334.7 L1021.1 334.3 L1022.1 333.9 L1023.1 333.5 L1024.1 332.9 L1025.1 332.1 L1026.1 331.2 L1027.1 328.9 L1028.1 326.3 L1029.1 324.1 L1030.1 322.0 L1031.1 320.1 L1032.1 319.0 L1033.1 319.4 L1034.1 320.1 L1035.1 321.2 L1036.1 322.5 L1037.1 322.3 L1038.1 319.4 L1039.1 316.2 L1040.1 313.7 L1041.1 311.7 L1042.1 309.7 L1043.1 306.8 L1044.1 302.9 L1045.1 299.0 L1046.1 295.5 L1047.1 292.2 L1048.1 290.0 L1049.1 289.2 L1050.1 288.6 L1051.1 288.5 L1052.1 288.5 L1053.1 288.5 L1054.1 288.2 L1055.1 287.7 L1056.1 287.2 L1057.1 286.7 L1058.1 286.0 L1059.1 285.5 L1060.1 286.5 L1061.1 288.5 L1062.1 290.7 L1063.1 293.3 L1064.1 296.0 L1065.1 299.1 L1066.1 302.4 L1067.1 305.9 L1068.1 309.8 L1069.1 313.8 L1070.1 317.8 L1071.1 321.8 L1072.1 325.0 L1073.1 326.0 L1074.1 325.7 L1075.1 324.5 L1076.1 323.4 L1077.1 321.8 L1078.1 321.1 L1079.1 321.4 L1080.1 322.0 L1081.1 323.8 L1082.1 325.9 L1083.1 330.5 L1084.1 337.3 L1085.1 343.6 L1086.1 349.0 L1087.1 353.2 L1088.1 357.2 L1089.1 361.1 L1090.1 364.6 L1091.1 367.9 L1092.1 370.2 L1093.1 370.7 L1094.1 369.9 L1095.1 368.3 L1096.1 366.3 L1097.1 363.8 L1098.1 361.1 L1099.1 358.9 L1100.1 356.9 L1101.1 354.9 L1102.1 353.1 L1103.1 351.5 L1104.1 350.0 L1105.1 348.5 L1106.1 347.0 L1107.1 345.5 L1108.1 344.1 L1109.1 343.1 L1110.1 342.4 L1111.1 341.4 L1112.1 339.6 L1113.1 337.5 L1114.1 334.3 L1115.1 330.3 L1116.1 326.5 L1117.1 323.1 L1118.1 320.0 L1119.1 320.4 L1120.1 319.1 L1121.1 318.2 L1122.1 319.3 L1123.1 320.9 L1124.1 322.9 L1125.1 324.6 L1126.1 325.1 L1127.1 325.1 L1128.1 325.1 L1129.1 325.2 L1130.1 325.5 L1131.1 325.7 L1132.1 326.0 L1133.1 326.2 L1134.1 326.5 L1135.1 326.7 L1136.1 326.7 L1137.1 326.7 L1138.1 326.8 L1139.1 327.0 L1140.1 327.5 L1141.1 328.0 L1142.1 328.9 L1143.1 330.4 L1144.1 331.8 L1145.1 331.4 L1146.1 329.8 L1147.1 327.4 L1148.1 323.7 L1149.1 320.0 L1150.1 315.9 L1151.1 312.8 L1152.1 310.1 L1153.1 308.2 L1154.1 307.1 L1155.1 306.1 L1156.1 305.3 L1157.1 304.9 L1158.1 304.7 L1159.1 304.5 L1160.1 305.1 L1161.1 306.1 L1162.1 306.9 L1163.1 307.3 L1164.1 307.5 L1165.1 307.1 L1166.1 306.4 L1167.1 305.7 L1168.1 304.8 L1169.1 303.8 L1170.1 302.8 L1171.1 301.8 L1172.1 300.6 L1173.1 299.3 L1174.1 298.3 L1175.1 298.8 L1176.1 300.5 L1177.1 301.9 L1178.1 303.0 L1179.1 303.9 L1180.1 304.0 L1181.1 303.5 L1182.1 303.0 L1183.1 302.5 L1184.1 302.0 L1185.1 301.5 L1186.1 301.1 L1187.1 301.3 L1188.1 301.7 L1189.1 302.3 L1190.1 303.2" fill="none" stroke="#238a23" stroke-opacity="0.85" stroke-width="1.35" stroke-dasharray="4.0 2.05"/>
</g>
<rect x="71.4" y="49.6" width="1171.90" height="498.60" fill="none" stroke="#333" stroke-width="1.1"/>
<line x1="67.10" x2="71.4" y1="532.84" y2="532.84" stroke="#333" stroke-width="1.1"/>
<text x="62.4" y="537.84" font-size="12" text-anchor="end" fill="#1e1e1e" textLength="16.6" lengthAdjust="spacingAndGlyphs">1.6</text>
<line x1="67.10" x2="71.4" y1="470.30" y2="470.30" stroke="#333" stroke-width="1.1"/>
<text x="62.4" y="475.30" font-size="12" text-anchor="end" fill="#1e1e1e" textLength="16.6" lengthAdjust="spacingAndGlyphs">1.8</text>
<line x1="67.10" x2="71.4" y1="407.76" y2="407.76" stroke="#333" stroke-width="1.1"/>
<text x="62.4" y="412.76" font-size="12" text-anchor="end" fill="#1e1e1e" textLength="16.6" lengthAdjust="spacingAndGlyphs">2.0</text>
<line x1="67.10" x2="71.4" y1="345.22" y2="345.22" stroke="#333" stroke-width="1.1"/>
<text x="62.4" y="350.22" font-size="12" text-anchor="end" fill="#1e1e1e" textLength="16.6" lengthAdjust="spacingAndGlyphs">2.2</text>
<line x1="67.10" x2="71.4" y1="282.67" y2="282.67" stroke="#333" stroke-width="1.1"/>
<text x="62.4" y="287.67" font-size="12" text-anchor="end" fill="#1e1e1e" textLength="16.6" lengthAdjust="spacingAndGlyphs">2.4</text>
<line x1="67.10" x2="71.4" y1="220.13" y2="220.13" stroke="#333" stroke-width="1.1"/>
<text x="62.4" y="225.13" font-size="12" text-anchor="end" fill="#1e1e1e" textLength="16.6" lengthAdjust="spacingAndGlyphs">2.6</text>
<line x1="67.10" x2="71.4" y1="157.59" y2="157.59" stroke="#333" stroke-width="1.1"/>
<text x="62.4" y="162.59" font-size="12" text-anchor="end" fill="#1e1e1e" textLength="16.6" lengthAdjust="spacingAndGlyphs">2.8</text>
<line x1="67.10" x2="71.4" y1="95.05" y2="95.05" stroke="#333" stroke-width="1.1"/>
<text x="62.4" y="100.05" font-size="12" text-anchor="end" fill="#1e1e1e" textLength="16.6" lengthAdjust="spacingAndGlyphs">3.0</text>
<line x1="124.90" x2="124.90" y1="548.2" y2="552.50" stroke="#333" stroke-width="1.1"/>
<text x="124.90" y="564.8" font-size="12" text-anchor="middle" fill="#1e1e1e">0</text>
<line x1="288.35" x2="288.35" y1="548.2" y2="552.50" stroke="#333" stroke-width="1.1"/>
<text x="288.35" y="564.8" font-size="12" text-anchor="middle" fill="#1e1e1e" textLength="20.8" lengthAdjust="spacingAndGlyphs">200</text>
<line x1="451.80" x2="451.80" y1="548.2" y2="552.50" stroke="#333" stroke-width="1.1"/>
<text x="451.80" y="564.8" font-size="12" text-anchor="middle" fill="#1e1e1e" textLength="20.8" lengthAdjust="spacingAndGlyphs">400</text>
<line x1="615.25" x2="615.25" y1="548.2" y2="552.50" stroke="#333" stroke-width="1.1"/>
<text x="615.25" y="564.8" font-size="12" text-anchor="middle" fill="#1e1e1e" textLength="20.8" lengthAdjust="spacingAndGlyphs">600</text>
<line x1="778.70" x2="778.70" y1="548.2" y2="552.50" stroke="#333" stroke-width="1.1"/>
<text x="778.70" y="564.8" font-size="12" text-anchor="middle" fill="#1e1e1e" textLength="20.8" lengthAdjust="spacingAndGlyphs">800</text>
<line x1="942.15" x2="942.15" y1="548.2" y2="552.50" stroke="#333" stroke-width="1.1"/>
<text x="942.15" y="564.8" font-size="12" text-anchor="middle" fill="#1e1e1e" textLength="27.2" lengthAdjust="spacingAndGlyphs">1000</text>
<line x1="1105.60" x2="1105.60" y1="548.2" y2="552.50" stroke="#333" stroke-width="1.1"/>
<text x="1105.60" y="564.8" font-size="12" text-anchor="middle" fill="#1e1e1e" textLength="27.2" lengthAdjust="spacingAndGlyphs">1200</text>
<text x="657.0" y="581.1" font-size="12" text-anchor="middle" fill="#1e1e1e" textLength="25.6" lengthAdjust="spacingAndGlyphs">Date</text>
<text transform="translate(37.6 299.25) rotate(-90)" x="0" y="0" font-size="12" text-anchor="middle" fill="#1e1e1e" textLength="98.8" lengthAdjust="spacingAndGlyphs">Inflation Rate (%)</text>
<text x="386.10" y="42.5" font-size="16.6" font-weight="bold" fill="#000" stroke="#000" stroke-width="0.25" textLength="95.60" lengthAdjust="spacingAndGlyphs">Breakeven</text>
<text x="487.80" y="42.5" font-size="16.6" font-weight="bold" fill="#000" stroke="#000" stroke-width="0.25" textLength="75.30" lengthAdjust="spacingAndGlyphs">Inflation</text>
<text x="569.20" y="42.5" font-size="16.6" font-weight="bold" fill="#000" stroke="#000" stroke-width="0.25" textLength="41.80" lengthAdjust="spacingAndGlyphs">Rate</text>
<text x="616.30" y="42.5" font-size="16.6" font-weight="bold" fill="#000" stroke="#000" stroke-width="0.25" textLength="39.70" lengthAdjust="spacingAndGlyphs">with</text>
<text x="662.10" y="42.5" font-size="16.6" font-weight="bold" fill="#000" stroke="#000" stroke-width="0.25" textLength="81.00" lengthAdjust="spacingAndGlyphs">Bollinger</text>
<text x="748.50" y="42.5" font-size="16.6" font-weight="bold" fill="#000" stroke="#000" stroke-width="0.25" textLength="55.40" lengthAdjust="spacingAndGlyphs">Bands</text>
<text x="809.60" y="42.5" font-size="16.6" font-weight="bold" fill="#000" stroke="#000" stroke-width="0.25" textLength="13.50" lengthAdjust="spacingAndGlyphs">&amp;</text>
<text x="828.50" y="42.5" font-size="16.6" font-weight="bold" fill="#000" stroke="#000" stroke-width="0.25" textLength="33.90" lengthAdjust="spacingAndGlyphs">Key</text>
<text x="868.00" y="42.5" font-size="16.6" font-weight="bold" fill="#000" stroke="#000" stroke-width="0.25" textLength="60.90" lengthAdjust="spacingAndGlyphs">Events</text>
<rect x="77.5" y="55.4" width="213.4" height="159.5" rx="2.5" fill="#fff" fill-opacity="0.8" stroke="#cccccc" stroke-opacity="0.8" stroke-width="1.1"/>
<line x1="81.8" x2="105.8" y1="65.2" y2="65.2" stroke="#000" stroke-opacity="0.8" stroke-width="1.1"/>
<text x="114.3" y="69.50" font-size="12" fill="#1e1e1e" textLength="58.8" lengthAdjust="spacingAndGlyphs">Daily Rate</text>
<line x1="81.8" x2="105.8" y1="82.3" y2="82.3" stroke="#0000ff" stroke-width="1.7"/>
<text x="114.3" y="86.60" font-size="12" fill="#1e1e1e" textLength="62.6" lengthAdjust="spacingAndGlyphs">20-Day MA</text>
<line x1="81.8" x2="105.8" y1="99.6" y2="99.6" stroke="#e62a20" stroke-opacity="0.82" stroke-width="1.35" stroke-dasharray="4.0 2.05"/>
<text x="114.3" y="103.90" font-size="12" fill="#1e1e1e" textLength="67.4" lengthAdjust="spacingAndGlyphs">Upper Band</text>
<line x1="81.8" x2="105.8" y1="116.9" y2="116.9" stroke="#238a23" stroke-opacity="0.85" stroke-width="1.35" stroke-dasharray="4.0 2.05"/>
<text x="114.3" y="121.20" font-size="12" fill="#1e1e1e" textLength="66.9" lengthAdjust="spacingAndGlyphs">Lower Band</text>
<rect x="81.8" y="129.90" width="24.00" height="8.6" fill="#f5d419" fill-opacity="0.3"/>
<text x="114.3" y="138.50" font-size="12" fill="#1e1e1e" textLength="149.9" lengthAdjust="spacingAndGlyphs">Band Expansion (Volatility</text>
<path d="M268.90 130.00 L271.50 133.60 L269.65 133.30 L269.65 138.00 L268.15 138.00 L268.15 133.30 L266.30 133.60 Z" fill="#1e1e1e"/>
<text x="274.30" y="138.50" font-size="12" fill="#1e1e1e">)</text>
<rect x="81.8" y="147.20" width="24.00" height="8.6" fill="#b2cde4" fill-opacity="0.27"/>
<text x="114.3" y="155.80" font-size="12" fill="#1e1e1e" textLength="157.8" lengthAdjust="spacingAndGlyphs">Band Contraction (Volatility</text>
<path d="M276.80 155.60 L279.40 152.00 L277.55 152.30 L277.55 147.50 L276.05 147.50 L276.05 152.30 L274.20 152.00 Z" fill="#1e1e1e"/>
<text x="282.30" y="155.80" font-size="12" fill="#1e1e1e">)</text>
<rect x="81.8" y="164.50" width="24.00" height="8.6" fill="#dd7d81" fill-opacity="0.5"/>
<text x="114.3" y="173.10" font-size="12" fill="#1e1e1e" textLength="148.7" lengthAdjust="spacingAndGlyphs">Upper Breach (~Day 200)</text>
<rect x="81.8" y="181.80" width="24.00" height="8.6" fill="#dd7d81" fill-opacity="0.5"/>
<text x="114.3" y="190.40" font-size="12" fill="#1e1e1e" textLength="148.7" lengthAdjust="spacingAndGlyphs">Upper Breach (~Day 400)</text>
<rect x="81.8" y="199.10" width="24.00" height="8.6" fill="#96ff8c" fill-opacity="0.4"/>
<text x="114.3" y="207.70" font-size="12" fill="#1e1e1e" textLength="148.3" lengthAdjust="spacingAndGlyphs">Lower Touch (~Day 1050)</text>
</svg></body></html>
